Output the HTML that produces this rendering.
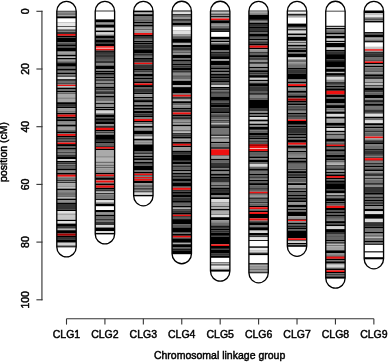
<!DOCTYPE html>
<html><head><meta charset="utf-8"><title>Chromosomal linkage groups</title>
<style>html,body{margin:0;padding:0;background:#fff}svg{display:block}</style>
</head><body>
<svg width="388" height="362" viewBox="0 0 388 362">
<rect width="388" height="362" fill="#fff"/>
<g>
<rect x="56.8" y="10.8" width="19.4" height="0.9" fill="#000"/>
<rect x="56.8" y="11.7" width="19.4" height="1.1" fill="#909090"/>
<rect x="56.8" y="12.8" width="19.4" height="0.8" fill="#333333"/>
<rect x="56.8" y="13.6" width="19.4" height="0.9" fill="#6e6e6e"/>
<rect x="56.8" y="14.5" width="19.4" height="0.7" fill="#333333"/>
<rect x="56.8" y="15.2" width="19.4" height="0.9" fill="#999999"/>
<rect x="56.8" y="16.1" width="19.4" height="0.9" fill="#333333"/>
<rect x="56.8" y="17" width="19.4" height="1.3" fill="#000"/>
<rect x="56.8" y="22.2" width="19.4" height="0.6" fill="#999999"/>
<rect x="56.8" y="22.8" width="19.4" height="3.2" fill="#e8e8e8"/>
<rect x="56.8" y="26" width="19.4" height="0.9" fill="#333333"/>
<rect x="56.8" y="26.9" width="19.4" height="2.3" fill="#e7e7e7"/>
<rect x="56.8" y="29.2" width="19.4" height="1" fill="#6e6e6e"/>
<rect x="56.8" y="30.2" width="19.4" height="1" fill="#333333"/>
<rect x="56.8" y="31.2" width="19.4" height="0.8" fill="#6e6e6e"/>
<rect x="56.8" y="32" width="19.4" height="2" fill="#333333"/>
<rect x="56.8" y="34" width="19.4" height="1.8" fill="#ee1111"/>
<rect x="56.8" y="35.8" width="19.4" height="1.4" fill="#000"/>
<rect x="56.8" y="37.2" width="19.4" height="0.8" fill="#333333"/>
<rect x="56.8" y="38" width="19.4" height="4" fill="#000"/>
<rect x="56.8" y="42" width="19.4" height="1" fill="#707070"/>
<rect x="56.8" y="43" width="19.4" height="1.3" fill="#545454"/>
<rect x="56.8" y="44.3" width="19.4" height="1.9" fill="#000"/>
<rect x="56.8" y="46.2" width="19.4" height="1.4" fill="#333333"/>
<rect x="56.8" y="47.6" width="19.4" height="3.6" fill="#000"/>
<rect x="56.8" y="51.2" width="19.4" height="0.9" fill="#616161"/>
<rect x="56.8" y="52.1" width="19.4" height="2.6" fill="#9b9b9b"/>
<rect x="56.8" y="54.7" width="19.4" height="1.4" fill="#000"/>
<rect x="56.8" y="56.1" width="19.4" height="0.9" fill="#808080"/>
<rect x="56.8" y="57" width="19.4" height="1" fill="#b5b5b5"/>
<rect x="56.8" y="58" width="19.4" height="1.4" fill="#000"/>
<rect x="56.8" y="59.4" width="19.4" height="0.9" fill="#676767"/>
<rect x="56.8" y="60.3" width="19.4" height="0.9" fill="#828282"/>
<rect x="56.8" y="61.2" width="19.4" height="1" fill="#626262"/>
<rect x="56.8" y="62.2" width="19.4" height="0.9" fill="#333333"/>
<rect x="56.8" y="63.1" width="19.4" height="3.1" fill="#000"/>
<rect x="56.8" y="66.2" width="19.4" height="1" fill="#333333"/>
<rect x="56.8" y="67.2" width="19.4" height="1.6" fill="#5c5c5c"/>
<rect x="56.8" y="68.8" width="19.4" height="1.8" fill="#000"/>
<rect x="56.8" y="70.6" width="19.4" height="0.7" fill="#333333"/>
<rect x="56.8" y="71.3" width="19.4" height="1.7" fill="#606060"/>
<rect x="56.8" y="73" width="19.4" height="1.4" fill="#000"/>
<rect x="56.8" y="74.4" width="19.4" height="1.6" fill="#666666"/>
<rect x="56.8" y="76" width="19.4" height="0.8" fill="#000"/>
<rect x="56.8" y="76.8" width="19.4" height="2.4" fill="#d8d8d8"/>
<rect x="56.8" y="79.2" width="19.4" height="1.6" fill="#000"/>
<rect x="56.8" y="80.8" width="19.4" height="2.2" fill="#6c6c6c"/>
<rect x="56.8" y="83" width="19.4" height="0.9" fill="#333333"/>
<rect x="56.8" y="83.9" width="19.4" height="0.9" fill="#6e6e6e"/>
<rect x="56.8" y="84.8" width="19.4" height="1.2" fill="#ee1111"/>
<rect x="56.8" y="86" width="19.4" height="1.6" fill="#bbbbbb"/>
<rect x="56.8" y="87.6" width="19.4" height="1.4" fill="#000"/>
<rect x="56.8" y="89" width="19.4" height="1.9" fill="#6e6e6e"/>
<rect x="56.8" y="90.9" width="19.4" height="1.1" fill="#000"/>
<rect x="56.8" y="92" width="19.4" height="0.8" fill="#8f8f8f"/>
<rect x="56.8" y="92.8" width="19.4" height="0.9" fill="#000"/>
<rect x="56.8" y="93.7" width="19.4" height="3.3" fill="#a8a8a8"/>
<rect x="56.8" y="97" width="19.4" height="0.6" fill="#6d6d6d"/>
<rect x="56.8" y="97.6" width="19.4" height="1.4" fill="#878787"/>
<rect x="56.8" y="99" width="19.4" height="0.6" fill="#6a6a6a"/>
<rect x="56.8" y="99.6" width="19.4" height="2.6" fill="#a5a5a5"/>
<rect x="56.8" y="102.2" width="19.4" height="1.8" fill="#000"/>
<rect x="56.8" y="104" width="19.4" height="2.4" fill="#333333"/>
<rect x="56.8" y="106.4" width="19.4" height="1.9" fill="#000"/>
<rect x="56.8" y="108.3" width="19.4" height="2.9" fill="#9a9a9a"/>
<rect x="56.8" y="111.2" width="19.4" height="0.9" fill="#5f5f5f"/>
<rect x="56.8" y="112.1" width="19.4" height="0.9" fill="#7b7b7b"/>
<rect x="56.8" y="113" width="19.4" height="1.6" fill="#000"/>
<rect x="56.8" y="114.6" width="19.4" height="2.2" fill="#ee1111"/>
<rect x="56.8" y="116.8" width="19.4" height="1.4" fill="#000"/>
<rect x="56.8" y="118.2" width="19.4" height="1.8" fill="#333333"/>
<rect x="56.8" y="120" width="19.4" height="1.5" fill="#000"/>
<rect x="56.8" y="121.5" width="19.4" height="2.3" fill="#8b8b8b"/>
<rect x="56.8" y="123.8" width="19.4" height="1" fill="#636363"/>
<rect x="56.8" y="124.8" width="19.4" height="1.9" fill="#000"/>
<rect x="56.8" y="126.7" width="19.4" height="2.8" fill="#9c9c9c"/>
<rect x="56.8" y="129.5" width="19.4" height="1.9" fill="#666666"/>
<rect x="56.8" y="131.4" width="19.4" height="1.8" fill="#000"/>
<rect x="56.8" y="133.2" width="19.4" height="0.8" fill="#616161"/>
<rect x="56.8" y="134" width="19.4" height="1.9" fill="#ee1111"/>
<rect x="56.8" y="135.9" width="19.4" height="1.6" fill="#000"/>
<rect x="56.8" y="137.5" width="19.4" height="1.5" fill="#333333"/>
<rect x="56.8" y="139" width="19.4" height="1.3" fill="#5b5b5b"/>
<rect x="56.8" y="140.3" width="19.4" height="2.2" fill="#333333"/>
<rect x="56.8" y="142.5" width="19.4" height="1.6" fill="#ee1111"/>
<rect x="56.8" y="144.1" width="19.4" height="1.9" fill="#000"/>
<rect x="56.8" y="146" width="19.4" height="1.9" fill="#606060"/>
<rect x="56.8" y="147.9" width="19.4" height="1.4" fill="#000"/>
<rect x="56.8" y="149.3" width="19.4" height="1.4" fill="#333333"/>
<rect x="56.8" y="150.7" width="19.4" height="1.4" fill="#7c7c7c"/>
<rect x="56.8" y="152.1" width="19.4" height="1.1" fill="#333333"/>
<rect x="56.8" y="153.2" width="19.4" height="1.5" fill="#616161"/>
<rect x="56.8" y="154.7" width="19.4" height="1.6" fill="#333333"/>
<rect x="56.8" y="156.3" width="19.4" height="2.8" fill="#000"/>
<rect x="56.8" y="159.1" width="19.4" height="1.9" fill="#d2d2d2"/>
<rect x="56.8" y="161" width="19.4" height="1.6" fill="#000"/>
<rect x="56.8" y="162.6" width="19.4" height="1.7" fill="#333333"/>
<rect x="56.8" y="164.3" width="19.4" height="1.1" fill="#616161"/>
<rect x="56.8" y="165.4" width="19.4" height="1.2" fill="#000"/>
<rect x="56.8" y="166.6" width="19.4" height="1.9" fill="#636363"/>
<rect x="56.8" y="168.5" width="19.4" height="2.1" fill="#000"/>
<rect x="56.8" y="170.6" width="19.4" height="2.2" fill="#8b8b8b"/>
<rect x="56.8" y="172.8" width="19.4" height="1.9" fill="#000"/>
<rect x="56.8" y="174.7" width="19.4" height="2.1" fill="#ee1111"/>
<rect x="56.8" y="176.8" width="19.4" height="1.2" fill="#878787"/>
<rect x="56.8" y="178" width="19.4" height="1.9" fill="#6e6e6e"/>
<rect x="56.8" y="179.9" width="19.4" height="1.1" fill="#333333"/>
<rect x="56.8" y="181" width="19.4" height="1" fill="#8a8a8a"/>
<rect x="56.8" y="182" width="19.4" height="1.1" fill="#333333"/>
<rect x="56.8" y="183.1" width="19.4" height="3.3" fill="#a9a9a9"/>
<rect x="56.8" y="186.4" width="19.4" height="1" fill="#6e6e6e"/>
<rect x="56.8" y="187.4" width="19.4" height="1.2" fill="#bdbdbd"/>
<rect x="56.8" y="188.6" width="19.4" height="1.6" fill="#000"/>
<rect x="56.8" y="190.2" width="19.4" height="1.6" fill="#6e6e6e"/>
<rect x="56.8" y="191.8" width="19.4" height="0.7" fill="#8e8e8e"/>
<rect x="56.8" y="192.5" width="19.4" height="1.2" fill="#333333"/>
<rect x="56.8" y="193.7" width="19.4" height="2.1" fill="#6e6e6e"/>
<rect x="56.8" y="195.8" width="19.4" height="1" fill="#333333"/>
<rect x="56.8" y="196.8" width="19.4" height="1.8" fill="#b8b8b8"/>
<rect x="56.8" y="198.6" width="19.4" height="1.4" fill="#000"/>
<rect x="56.8" y="200" width="19.4" height="2.6" fill="#8d8d8d"/>
<rect x="56.8" y="202.6" width="19.4" height="1.4" fill="#000"/>
<rect x="56.8" y="204" width="19.4" height="5.5" fill="#333333"/>
<rect x="56.8" y="209.5" width="19.4" height="1.5" fill="#000"/>
<rect x="56.8" y="211" width="19.4" height="2.7" fill="#e0e0e0"/>
<rect x="56.8" y="213.7" width="19.4" height="1" fill="#6e6e6e"/>
<rect x="56.8" y="214.7" width="19.4" height="1.3" fill="#c9c9c9"/>
<rect x="56.8" y="216" width="19.4" height="0.5" fill="#999999"/>
<rect x="56.8" y="216.5" width="19.4" height="1.5" fill="#c7c7c7"/>
<rect x="56.8" y="218" width="19.4" height="0.5" fill="#999999"/>
<rect x="56.8" y="218.5" width="19.4" height="1.3" fill="#c8c8c8"/>
<rect x="56.8" y="219.8" width="19.4" height="1.4" fill="#000"/>
<rect x="56.8" y="221.2" width="19.4" height="2.4" fill="#e2e2e2"/>
<rect x="56.8" y="223.6" width="19.4" height="2.4" fill="#000"/>
<rect x="56.8" y="226" width="19.4" height="2.3" fill="#333333"/>
<rect x="56.8" y="228.3" width="19.4" height="0.7" fill="#626262"/>
<rect x="56.8" y="229" width="19.4" height="1.2" fill="#b4b4b4"/>
<rect x="56.8" y="230.2" width="19.4" height="3.4" fill="#000"/>
<rect x="56.8" y="233.6" width="19.4" height="2.2" fill="#a80000"/>
<rect x="56.8" y="235.8" width="19.4" height="1.2" fill="#000"/>
<rect x="56.8" y="237" width="19.4" height="2.9" fill="#333333"/>
<rect x="56.8" y="239.9" width="19.4" height="2.8" fill="#000"/>
<rect x="56.8" y="242.7" width="19.4" height="2.8" fill="#d4d4d4"/>
<rect x="56.8" y="245.5" width="19.4" height="1.9" fill="#333333"/>
<path d="M56.8 246.9 V11.3 A9.7 10 0 0 1 76.2 11.3 V246.9 A9.7 10 0 0 1 56.8 246.9 Z" fill="none" stroke="#000" stroke-width="1.35"/>
</g>
<g>
<rect x="95.22" y="10.6" width="19.4" height="0.8" fill="#000"/>
<rect x="95.22" y="19.4" width="19.4" height="2.6" fill="#000"/>
<rect x="95.22" y="22" width="19.4" height="0.7" fill="#333333"/>
<rect x="95.22" y="22.7" width="19.4" height="1.8" fill="#9a9a9a"/>
<rect x="95.22" y="24.5" width="19.4" height="2.9" fill="#000"/>
<rect x="95.22" y="27.4" width="19.4" height="0.9" fill="#333333"/>
<rect x="95.22" y="28.3" width="19.4" height="2.2" fill="#d6d6d6"/>
<rect x="95.22" y="30.5" width="19.4" height="1.8" fill="#000"/>
<rect x="95.22" y="32.3" width="19.4" height="2.3" fill="#d3d3d3"/>
<rect x="95.22" y="34.6" width="19.4" height="1.2" fill="#666666"/>
<rect x="95.22" y="35.8" width="19.4" height="2.4" fill="#000"/>
<rect x="95.22" y="38.2" width="19.4" height="1.4" fill="#333333"/>
<rect x="95.22" y="39.6" width="19.4" height="2.4" fill="#000"/>
<rect x="95.22" y="42" width="19.4" height="1.9" fill="#333333"/>
<rect x="95.22" y="43.9" width="19.4" height="2.3" fill="#000"/>
<rect x="95.22" y="46.2" width="19.4" height="1.6" fill="#ee1111"/>
<rect x="95.22" y="47.8" width="19.4" height="1" fill="#f2b0b0"/>
<rect x="95.22" y="48.8" width="19.4" height="1.7" fill="#ee1111"/>
<rect x="95.22" y="50.5" width="19.4" height="1.4" fill="#000"/>
<rect x="95.22" y="51.9" width="19.4" height="1.4" fill="#333333"/>
<rect x="95.22" y="53.3" width="19.4" height="1.4" fill="#000"/>
<rect x="95.22" y="54.7" width="19.4" height="2.8" fill="#333333"/>
<rect x="95.22" y="57.5" width="19.4" height="1.2" fill="#000"/>
<rect x="95.22" y="58.7" width="19.4" height="1.6" fill="#595959"/>
<rect x="95.22" y="60.3" width="19.4" height="3.3" fill="#333333"/>
<rect x="95.22" y="63.6" width="19.4" height="1.9" fill="#868686"/>
<rect x="95.22" y="65.5" width="19.4" height="3.7" fill="#000"/>
<rect x="95.22" y="69.2" width="19.4" height="1.7" fill="#7a7a7a"/>
<rect x="95.22" y="70.9" width="19.4" height="1.1" fill="#000"/>
<rect x="95.22" y="72" width="19.4" height="1" fill="#5d5d5d"/>
<rect x="95.22" y="73" width="19.4" height="1.8" fill="#000"/>
<rect x="95.22" y="74.8" width="19.4" height="2" fill="#5f5f5f"/>
<rect x="95.22" y="76.8" width="19.4" height="1.4" fill="#000"/>
<rect x="95.22" y="78.2" width="19.4" height="1.2" fill="#636363"/>
<rect x="95.22" y="79.4" width="19.4" height="1.4" fill="#000"/>
<rect x="95.22" y="80.8" width="19.4" height="2.4" fill="#898989"/>
<rect x="95.22" y="83.2" width="19.4" height="1.3" fill="#000"/>
<rect x="95.22" y="84.5" width="19.4" height="2.2" fill="#898989"/>
<rect x="95.22" y="86.7" width="19.4" height="1.4" fill="#000"/>
<rect x="95.22" y="88.1" width="19.4" height="2.1" fill="#333333"/>
<rect x="95.22" y="90.2" width="19.4" height="1.2" fill="#626262"/>
<rect x="95.22" y="91.4" width="19.4" height="1.4" fill="#000"/>
<rect x="95.22" y="92.8" width="19.4" height="1.4" fill="#333333"/>
<rect x="95.22" y="94.2" width="19.4" height="1.6" fill="#7f7f7f"/>
<rect x="95.22" y="95.8" width="19.4" height="1.9" fill="#000"/>
<rect x="95.22" y="97.7" width="19.4" height="3.5" fill="#717171"/>
<rect x="95.22" y="101.2" width="19.4" height="1.9" fill="#919191"/>
<rect x="95.22" y="103.1" width="19.4" height="1.4" fill="#000"/>
<rect x="95.22" y="104.5" width="19.4" height="2.4" fill="#979797"/>
<rect x="95.22" y="106.9" width="19.4" height="1.1" fill="#000"/>
<rect x="95.22" y="108" width="19.4" height="0.8" fill="#8a8a8a"/>
<rect x="95.22" y="108.8" width="19.4" height="1.7" fill="#000"/>
<rect x="95.22" y="110.5" width="19.4" height="2.8" fill="#d5d5d5"/>
<rect x="95.22" y="113.3" width="19.4" height="1.2" fill="#656565"/>
<rect x="95.22" y="114.5" width="19.4" height="2.8" fill="#000"/>
<rect x="95.22" y="117.3" width="19.4" height="1.7" fill="#333333"/>
<rect x="95.22" y="119" width="19.4" height="1" fill="#000"/>
<rect x="95.22" y="120" width="19.4" height="2" fill="#333333"/>
<rect x="95.22" y="122" width="19.4" height="2.3" fill="#000"/>
<rect x="95.22" y="124.3" width="19.4" height="1.9" fill="#838383"/>
<rect x="95.22" y="126.2" width="19.4" height="1.6" fill="#000"/>
<rect x="95.22" y="127.8" width="19.4" height="2.2" fill="#ee1111"/>
<rect x="95.22" y="130" width="19.4" height="1.2" fill="#000"/>
<rect x="95.22" y="131.2" width="19.4" height="1.1" fill="#5a5a5a"/>
<rect x="95.22" y="132.3" width="19.4" height="0.9" fill="#000"/>
<rect x="95.22" y="133.2" width="19.4" height="1.4" fill="#747474"/>
<rect x="95.22" y="134.6" width="19.4" height="5.3" fill="#000"/>
<rect x="95.22" y="139.9" width="19.4" height="1.4" fill="#323232"/>
<rect x="95.22" y="141.3" width="19.4" height="2.3" fill="#000"/>
<rect x="95.22" y="143.6" width="19.4" height="2.4" fill="#5f5f5f"/>
<rect x="95.22" y="146" width="19.4" height="1" fill="#333333"/>
<rect x="95.22" y="147" width="19.4" height="1.8" fill="#ee1111"/>
<rect x="95.22" y="148.8" width="19.4" height="1.2" fill="#000"/>
<rect x="95.22" y="150" width="19.4" height="6.3" fill="#aaaaaa"/>
<rect x="95.22" y="156.3" width="19.4" height="1.4" fill="#6e6e6e"/>
<rect x="95.22" y="157.7" width="19.4" height="3.8" fill="#b4b4b4"/>
<rect x="95.22" y="161.5" width="19.4" height="1.9" fill="#6e6e6e"/>
<rect x="95.22" y="163.4" width="19.4" height="1.4" fill="#979797"/>
<rect x="95.22" y="164.8" width="19.4" height="1.4" fill="#6e6e6e"/>
<rect x="95.22" y="166.2" width="19.4" height="1.1" fill="#919191"/>
<rect x="95.22" y="167.3" width="19.4" height="0.9" fill="#333333"/>
<rect x="95.22" y="168.2" width="19.4" height="1.8" fill="#979797"/>
<rect x="95.22" y="170" width="19.4" height="0.6" fill="#6c6c6c"/>
<rect x="95.22" y="170.6" width="19.4" height="2.2" fill="#929292"/>
<rect x="95.22" y="172.8" width="19.4" height="1.7" fill="#000"/>
<rect x="95.22" y="174.5" width="19.4" height="1.9" fill="#ee1111"/>
<rect x="95.22" y="176.4" width="19.4" height="1.3" fill="#333333"/>
<rect x="95.22" y="177.7" width="19.4" height="2.2" fill="#000"/>
<rect x="95.22" y="179.9" width="19.4" height="0.6" fill="#787878"/>
<rect x="95.22" y="180.5" width="19.4" height="2.2" fill="#ee1111"/>
<rect x="95.22" y="182.7" width="19.4" height="0.9" fill="#5b5b5b"/>
<rect x="95.22" y="183.6" width="19.4" height="1.9" fill="#000"/>
<rect x="95.22" y="185.5" width="19.4" height="2.3" fill="#ee1111"/>
<rect x="95.22" y="187.8" width="19.4" height="1.4" fill="#000"/>
<rect x="95.22" y="189.2" width="19.4" height="2.4" fill="#333333"/>
<rect x="95.22" y="191.6" width="19.4" height="1.4" fill="#b6b6b6"/>
<rect x="95.22" y="193" width="19.4" height="1.4" fill="#333333"/>
<rect x="95.22" y="194.4" width="19.4" height="4.7" fill="#767676"/>
<rect x="95.22" y="199.1" width="19.4" height="1.1" fill="#000"/>
<rect x="95.22" y="200.2" width="19.4" height="2.2" fill="#e1e1e1"/>
<rect x="95.22" y="202.4" width="19.4" height="1.5" fill="#6e6e6e"/>
<rect x="95.22" y="203.9" width="19.4" height="2.3" fill="#000"/>
<rect x="95.22" y="210" width="19.4" height="2.5" fill="#000"/>
<rect x="95.22" y="212.5" width="19.4" height="2.2" fill="#939393"/>
<rect x="95.22" y="214.7" width="19.4" height="1.9" fill="#000"/>
<rect x="95.22" y="216.6" width="19.4" height="2.3" fill="#6b6b6b"/>
<rect x="95.22" y="218.9" width="19.4" height="1.1" fill="#333333"/>
<rect x="95.22" y="220" width="19.4" height="1.7" fill="#686868"/>
<rect x="95.22" y="221.7" width="19.4" height="3.3" fill="#333333"/>
<rect x="95.22" y="225" width="19.4" height="2.5" fill="#d8d8d8"/>
<rect x="95.22" y="227.5" width="19.4" height="3.6" fill="#000"/>
<rect x="95.22" y="231.1" width="19.4" height="1.9" fill="#dadada"/>
<rect x="95.22" y="233" width="19.4" height="1.4" fill="#000"/>
<path d="M95.22 233.9 V11.3 A9.7 10 0 0 1 114.62 11.3 V233.9 A9.7 10 0 0 1 95.22 233.9 Z" fill="none" stroke="#000" stroke-width="1.35"/>
</g>
<g>
<rect x="133.64" y="10.6" width="19.4" height="1.4" fill="#000"/>
<rect x="133.64" y="12" width="19.4" height="0.6" fill="#333333"/>
<rect x="133.64" y="12.6" width="19.4" height="1.6" fill="#b7b7b7"/>
<rect x="133.64" y="14.2" width="19.4" height="1.9" fill="#000"/>
<rect x="133.64" y="16.1" width="19.4" height="1.4" fill="#656565"/>
<rect x="133.64" y="17.5" width="19.4" height="1.1" fill="#333333"/>
<rect x="133.64" y="18.6" width="19.4" height="1.3" fill="#656565"/>
<rect x="133.64" y="19.9" width="19.4" height="0.9" fill="#333333"/>
<rect x="133.64" y="20.8" width="19.4" height="0.9" fill="#848484"/>
<rect x="133.64" y="21.7" width="19.4" height="1.3" fill="#000"/>
<rect x="133.64" y="23" width="19.4" height="2" fill="#6a6a6a"/>
<rect x="133.64" y="25" width="19.4" height="1.7" fill="#000"/>
<rect x="133.64" y="26.7" width="19.4" height="2.1" fill="#909090"/>
<rect x="133.64" y="28.8" width="19.4" height="1.4" fill="#686868"/>
<rect x="133.64" y="30.2" width="19.4" height="2.8" fill="#9f9f9f"/>
<rect x="133.64" y="33" width="19.4" height="1.9" fill="#ee1111"/>
<rect x="133.64" y="34.9" width="19.4" height="1.9" fill="#000"/>
<rect x="133.64" y="36.8" width="19.4" height="1.8" fill="#333333"/>
<rect x="133.64" y="38.6" width="19.4" height="1" fill="#000"/>
<rect x="133.64" y="39.6" width="19.4" height="1.4" fill="#777777"/>
<rect x="133.64" y="41" width="19.4" height="1" fill="#000"/>
<rect x="133.64" y="42" width="19.4" height="0.8" fill="#565656"/>
<rect x="133.64" y="42.8" width="19.4" height="1.8" fill="#000"/>
<rect x="133.64" y="44.6" width="19.4" height="2.6" fill="#2f2f2f"/>
<rect x="133.64" y="47.2" width="19.4" height="1.4" fill="#000"/>
<rect x="133.64" y="48.6" width="19.4" height="1.4" fill="#2f2f2f"/>
<rect x="133.64" y="50" width="19.4" height="3.3" fill="#000"/>
<rect x="133.64" y="53.3" width="19.4" height="2.3" fill="#303030"/>
<rect x="133.64" y="55.6" width="19.4" height="1" fill="#000"/>
<rect x="133.64" y="56.6" width="19.4" height="1.2" fill="#747474"/>
<rect x="133.64" y="57.8" width="19.4" height="1.2" fill="#000"/>
<rect x="133.64" y="59" width="19.4" height="3.7" fill="#313131"/>
<rect x="133.64" y="62.7" width="19.4" height="1.6" fill="#ee1111"/>
<rect x="133.64" y="64.3" width="19.4" height="4" fill="#333333"/>
<rect x="133.64" y="68.3" width="19.4" height="1.9" fill="#000"/>
<rect x="133.64" y="70.2" width="19.4" height="1.1" fill="#333333"/>
<rect x="133.64" y="71.3" width="19.4" height="1.2" fill="#000"/>
<rect x="133.64" y="72.5" width="19.4" height="1.4" fill="#757575"/>
<rect x="133.64" y="73.9" width="19.4" height="2.1" fill="#000"/>
<rect x="133.64" y="76" width="19.4" height="1.8" fill="#585858"/>
<rect x="133.64" y="77.8" width="19.4" height="1.8" fill="#000"/>
<rect x="133.64" y="79.6" width="19.4" height="1.7" fill="#5a5a5a"/>
<rect x="133.64" y="81.3" width="19.4" height="2.1" fill="#000"/>
<rect x="133.64" y="83.4" width="19.4" height="1.7" fill="#ee1111"/>
<rect x="133.64" y="85.1" width="19.4" height="2.5" fill="#000"/>
<rect x="133.64" y="87.6" width="19.4" height="1.4" fill="#5f5f5f"/>
<rect x="133.64" y="89" width="19.4" height="3.8" fill="#333333"/>
<rect x="133.64" y="92.8" width="19.4" height="1.4" fill="#000"/>
<rect x="133.64" y="94.2" width="19.4" height="2.8" fill="#999999"/>
<rect x="133.64" y="97" width="19.4" height="1.4" fill="#000"/>
<rect x="133.64" y="98.4" width="19.4" height="1.7" fill="#626262"/>
<rect x="133.64" y="100.1" width="19.4" height="2.5" fill="#000"/>
<rect x="133.64" y="102.6" width="19.4" height="2.2" fill="#898989"/>
<rect x="133.64" y="104.8" width="19.4" height="2" fill="#000"/>
<rect x="133.64" y="106.8" width="19.4" height="1.2" fill="#787878"/>
<rect x="133.64" y="108" width="19.4" height="1.8" fill="#000"/>
<rect x="133.64" y="109.8" width="19.4" height="1.1" fill="#7b7b7b"/>
<rect x="133.64" y="110.9" width="19.4" height="2.6" fill="#000"/>
<rect x="133.64" y="113.5" width="19.4" height="2.4" fill="#333333"/>
<rect x="133.64" y="115.9" width="19.4" height="1.6" fill="#000"/>
<rect x="133.64" y="117.5" width="19.4" height="1.5" fill="#7f7f7f"/>
<rect x="133.64" y="119" width="19.4" height="2" fill="#ee1111"/>
<rect x="133.64" y="121" width="19.4" height="1.2" fill="#000"/>
<rect x="133.64" y="122.2" width="19.4" height="2.1" fill="#666666"/>
<rect x="133.64" y="124.3" width="19.4" height="1.6" fill="#b6b6b6"/>
<rect x="133.64" y="125.9" width="19.4" height="1.2" fill="#000"/>
<rect x="133.64" y="127.1" width="19.4" height="1.4" fill="#333333"/>
<rect x="133.64" y="128.5" width="19.4" height="2.1" fill="#919191"/>
<rect x="133.64" y="130.6" width="19.4" height="4" fill="#000"/>
<rect x="133.64" y="134.6" width="19.4" height="1" fill="#858585"/>
<rect x="133.64" y="135.6" width="19.4" height="0.9" fill="#000"/>
<rect x="133.64" y="136.5" width="19.4" height="1.9" fill="#d7d7d7"/>
<rect x="133.64" y="138.4" width="19.4" height="0.2" fill="#000"/>
<rect x="133.64" y="138.6" width="19.4" height="0.4" fill="#646464"/>
<rect x="133.64" y="139" width="19.4" height="1.6" fill="#000"/>
<rect x="133.64" y="140.6" width="19.4" height="1" fill="#7f7f7f"/>
<rect x="133.64" y="141.6" width="19.4" height="1.8" fill="#8a8a8a"/>
<rect x="133.64" y="143.4" width="19.4" height="1" fill="#7e7e7e"/>
<rect x="133.64" y="144.4" width="19.4" height="7.2" fill="#000"/>
<rect x="133.64" y="151.6" width="19.4" height="1.4" fill="#585858"/>
<rect x="133.64" y="153" width="19.4" height="1.4" fill="#333333"/>
<rect x="133.64" y="154.4" width="19.4" height="1.6" fill="#757575"/>
<rect x="133.64" y="156" width="19.4" height="1.2" fill="#000"/>
<rect x="133.64" y="157.2" width="19.4" height="1" fill="#5d5d5d"/>
<rect x="133.64" y="158.2" width="19.4" height="2.3" fill="#000"/>
<rect x="133.64" y="160.5" width="19.4" height="1.5" fill="#777777"/>
<rect x="133.64" y="162" width="19.4" height="1.8" fill="#000"/>
<rect x="133.64" y="163.8" width="19.4" height="1.9" fill="#585858"/>
<rect x="133.64" y="165.7" width="19.4" height="4.9" fill="#000"/>
<rect x="133.64" y="170.6" width="19.4" height="1.4" fill="#787878"/>
<rect x="133.64" y="172" width="19.4" height="1.6" fill="#000"/>
<rect x="133.64" y="173.6" width="19.4" height="1.6" fill="#ee1111"/>
<rect x="133.64" y="175.2" width="19.4" height="0.6" fill="#000"/>
<rect x="133.64" y="175.8" width="19.4" height="1.2" fill="#7d7d7d"/>
<rect x="133.64" y="177" width="19.4" height="1.5" fill="#ee1111"/>
<rect x="133.64" y="178.5" width="19.4" height="0.5" fill="#333333"/>
<rect x="133.64" y="179" width="19.4" height="1.8" fill="#ee1111"/>
<rect x="133.64" y="180.8" width="19.4" height="2.3" fill="#000"/>
<rect x="133.64" y="183.1" width="19.4" height="2.4" fill="#919191"/>
<rect x="133.64" y="185.5" width="19.4" height="1.2" fill="#000"/>
<rect x="133.64" y="186.7" width="19.4" height="1.6" fill="#868686"/>
<rect x="133.64" y="188.3" width="19.4" height="1.4" fill="#000"/>
<rect x="133.64" y="189.7" width="19.4" height="1.7" fill="#898989"/>
<rect x="133.64" y="191.4" width="19.4" height="1.1" fill="#000"/>
<rect x="133.64" y="192.5" width="19.4" height="2.4" fill="#dcdcdc"/>
<rect x="133.64" y="194.9" width="19.4" height="1.4" fill="#000"/>
<path d="M133.64 195.8 V11.3 A9.7 10 0 0 1 153.04 11.3 V195.8 A9.7 10 0 0 1 133.64 195.8 Z" fill="none" stroke="#000" stroke-width="1.35"/>
</g>
<g>
<rect x="172.06" y="10.5" width="19.4" height="1.2" fill="#000"/>
<rect x="172.06" y="11.7" width="19.4" height="2.5" fill="#dedede"/>
<rect x="172.06" y="14.2" width="19.4" height="1.4" fill="#000"/>
<rect x="172.06" y="15.6" width="19.4" height="1.4" fill="#6a6a6a"/>
<rect x="172.06" y="17" width="19.4" height="2.2" fill="#949494"/>
<rect x="172.06" y="19.2" width="19.4" height="1.6" fill="#000"/>
<rect x="172.06" y="20.8" width="19.4" height="1.9" fill="#6e6e6e"/>
<rect x="172.06" y="22.7" width="19.4" height="2.3" fill="#000"/>
<rect x="172.06" y="25" width="19.4" height="1.7" fill="#6e6e6e"/>
<rect x="172.06" y="30.2" width="19.4" height="0.6" fill="#999999"/>
<rect x="172.06" y="30.8" width="19.4" height="3.2" fill="#e0e0e0"/>
<rect x="172.06" y="34" width="19.4" height="1.8" fill="#969696"/>
<rect x="172.06" y="35.8" width="19.4" height="1.4" fill="#6e6e6e"/>
<rect x="172.06" y="37.2" width="19.4" height="1.4" fill="#333333"/>
<rect x="172.06" y="38.6" width="19.4" height="3.4" fill="#000"/>
<rect x="172.06" y="42" width="19.4" height="1.4" fill="#333333"/>
<rect x="172.06" y="43.4" width="19.4" height="1.6" fill="#b3b3b3"/>
<rect x="172.06" y="45" width="19.4" height="2.6" fill="#000"/>
<rect x="172.06" y="47.6" width="19.4" height="2.4" fill="#333333"/>
<rect x="172.06" y="50" width="19.4" height="1" fill="#636363"/>
<rect x="172.06" y="51" width="19.4" height="1.5" fill="#7f7f7f"/>
<rect x="172.06" y="52.5" width="19.4" height="1" fill="#000"/>
<rect x="172.06" y="53.5" width="19.4" height="1.2" fill="#b0b0b0"/>
<rect x="172.06" y="54.7" width="19.4" height="3.7" fill="#000"/>
<rect x="172.06" y="58.4" width="19.4" height="1.4" fill="#5e5e5e"/>
<rect x="172.06" y="59.8" width="19.4" height="1.9" fill="#000"/>
<rect x="172.06" y="61.7" width="19.4" height="2.3" fill="#585858"/>
<rect x="172.06" y="64" width="19.4" height="1.5" fill="#000"/>
<rect x="172.06" y="65.5" width="19.4" height="2.3" fill="#333333"/>
<rect x="172.06" y="67.8" width="19.4" height="2.4" fill="#000"/>
<rect x="172.06" y="70.2" width="19.4" height="1.8" fill="#333333"/>
<rect x="172.06" y="72" width="19.4" height="1" fill="#636363"/>
<rect x="172.06" y="73" width="19.4" height="2.4" fill="#898989"/>
<rect x="172.06" y="75.4" width="19.4" height="1.4" fill="#333333"/>
<rect x="172.06" y="76.8" width="19.4" height="2.4" fill="#686868"/>
<rect x="172.06" y="79.2" width="19.4" height="1.8" fill="#848484"/>
<rect x="172.06" y="81" width="19.4" height="4.3" fill="#000"/>
<rect x="172.06" y="85.3" width="19.4" height="1.8" fill="#b1b1b1"/>
<rect x="172.06" y="87.1" width="19.4" height="6.1" fill="#000"/>
<rect x="172.06" y="93.2" width="19.4" height="1.6" fill="#626262"/>
<rect x="172.06" y="94.8" width="19.4" height="1.9" fill="#ee1111"/>
<rect x="172.06" y="96.7" width="19.4" height="1.7" fill="#333333"/>
<rect x="172.06" y="98.4" width="19.4" height="1.1" fill="#000"/>
<rect x="172.06" y="99.5" width="19.4" height="1.7" fill="#b6b6b6"/>
<rect x="172.06" y="101.2" width="19.4" height="2.4" fill="#000"/>
<rect x="172.06" y="103.6" width="19.4" height="1.9" fill="#646464"/>
<rect x="172.06" y="105.5" width="19.4" height="2.4" fill="#8b8b8b"/>
<rect x="172.06" y="107.9" width="19.4" height="1.4" fill="#000"/>
<rect x="172.06" y="109.3" width="19.4" height="3.1" fill="#333333"/>
<rect x="172.06" y="112.4" width="19.4" height="2.1" fill="#ee1111"/>
<rect x="172.06" y="114.5" width="19.4" height="1.8" fill="#000"/>
<rect x="172.06" y="116.3" width="19.4" height="1.9" fill="#333333"/>
<rect x="172.06" y="118.2" width="19.4" height="1.4" fill="#000"/>
<rect x="172.06" y="119.6" width="19.4" height="1.9" fill="#8f8f8f"/>
<rect x="172.06" y="121.5" width="19.4" height="1.9" fill="#696969"/>
<rect x="172.06" y="123.4" width="19.4" height="1.4" fill="#8b8b8b"/>
<rect x="172.06" y="124.8" width="19.4" height="1.7" fill="#000"/>
<rect x="172.06" y="126.5" width="19.4" height="3.5" fill="#a5a5a5"/>
<rect x="172.06" y="130" width="19.4" height="1" fill="#6c6c6c"/>
<rect x="172.06" y="131" width="19.4" height="0.8" fill="#898989"/>
<rect x="172.06" y="131.8" width="19.4" height="1.4" fill="#bcbcbc"/>
<rect x="172.06" y="133.2" width="19.4" height="1.4" fill="#000"/>
<rect x="172.06" y="134.6" width="19.4" height="1.9" fill="#333333"/>
<rect x="172.06" y="136.5" width="19.4" height="1.5" fill="#000"/>
<rect x="172.06" y="138" width="19.4" height="1.4" fill="#656565"/>
<rect x="172.06" y="139.4" width="19.4" height="2.6" fill="#909090"/>
<rect x="172.06" y="142" width="19.4" height="1.8" fill="#000"/>
<rect x="172.06" y="143.8" width="19.4" height="1.9" fill="#ee1111"/>
<rect x="172.06" y="145.7" width="19.4" height="1.7" fill="#000"/>
<rect x="172.06" y="147.4" width="19.4" height="3.3" fill="#979797"/>
<rect x="172.06" y="150.7" width="19.4" height="1.3" fill="#000"/>
<rect x="172.06" y="152" width="19.4" height="2.4" fill="#333333"/>
<rect x="172.06" y="154.4" width="19.4" height="5.6" fill="#000"/>
<rect x="172.06" y="160" width="19.4" height="1.5" fill="#2d2d2d"/>
<rect x="172.06" y="161.5" width="19.4" height="2.8" fill="#000"/>
<rect x="172.06" y="164.3" width="19.4" height="1.9" fill="#585858"/>
<rect x="172.06" y="166.2" width="19.4" height="1.4" fill="#000"/>
<rect x="172.06" y="167.6" width="19.4" height="2.1" fill="#5b5b5b"/>
<rect x="172.06" y="169.7" width="19.4" height="1.3" fill="#000"/>
<rect x="172.06" y="171" width="19.4" height="2" fill="#828282"/>
<rect x="172.06" y="173" width="19.4" height="1.7" fill="#000"/>
<rect x="172.06" y="174.7" width="19.4" height="1.4" fill="#585858"/>
<rect x="172.06" y="176.1" width="19.4" height="1.4" fill="#000"/>
<rect x="172.06" y="177.5" width="19.4" height="1" fill="#2f2f2f"/>
<rect x="172.06" y="178.5" width="19.4" height="2.8" fill="#000"/>
<rect x="172.06" y="181.3" width="19.4" height="1.4" fill="#2f2f2f"/>
<rect x="172.06" y="182.7" width="19.4" height="3.3" fill="#000"/>
<rect x="172.06" y="186" width="19.4" height="1.8" fill="#545454"/>
<rect x="172.06" y="187.8" width="19.4" height="2.1" fill="#ee1111"/>
<rect x="172.06" y="189.9" width="19.4" height="1.7" fill="#303030"/>
<rect x="172.06" y="191.6" width="19.4" height="1.4" fill="#000"/>
<rect x="172.06" y="193" width="19.4" height="1.9" fill="#303030"/>
<rect x="172.06" y="194.9" width="19.4" height="2.3" fill="#000"/>
<rect x="172.06" y="197.2" width="19.4" height="3.8" fill="#333333"/>
<rect x="172.06" y="201" width="19.4" height="1.8" fill="#000"/>
<rect x="172.06" y="202.8" width="19.4" height="3" fill="#656565"/>
<rect x="172.06" y="205.8" width="19.4" height="1.8" fill="#000"/>
<rect x="172.06" y="207.6" width="19.4" height="1.7" fill="#b0b0b0"/>
<rect x="172.06" y="209.3" width="19.4" height="1.3" fill="#000"/>
<rect x="172.06" y="210.6" width="19.4" height="1.7" fill="#333333"/>
<rect x="172.06" y="212.3" width="19.4" height="2.4" fill="#000"/>
<rect x="172.06" y="214.7" width="19.4" height="1.6" fill="#ee1111"/>
<rect x="172.06" y="216.3" width="19.4" height="0.7" fill="#000"/>
<rect x="172.06" y="217" width="19.4" height="2.1" fill="#575757"/>
<rect x="172.06" y="219.1" width="19.4" height="5.4" fill="#000"/>
<rect x="172.06" y="224.5" width="19.4" height="2.9" fill="#565656"/>
<rect x="172.06" y="227.4" width="19.4" height="5.3" fill="#000"/>
<rect x="172.06" y="232.7" width="19.4" height="1.3" fill="#727272"/>
<rect x="172.06" y="234" width="19.4" height="1.8" fill="#000"/>
<rect x="172.06" y="235.8" width="19.4" height="1.8" fill="#ee1111"/>
<rect x="172.06" y="237.6" width="19.4" height="1.2" fill="#313131"/>
<rect x="172.06" y="238.8" width="19.4" height="4" fill="#000"/>
<rect x="172.06" y="242.8" width="19.4" height="1.4" fill="#acacac"/>
<rect x="172.06" y="244.2" width="19.4" height="3.3" fill="#000"/>
<rect x="172.06" y="247.5" width="19.4" height="1.6" fill="#555555"/>
<rect x="172.06" y="249.1" width="19.4" height="0.9" fill="#000"/>
<rect x="172.06" y="250" width="19.4" height="1" fill="#323232"/>
<rect x="172.06" y="251" width="19.4" height="3.2" fill="#000"/>
<path d="M172.06 253.7 V11.3 A9.7 10 0 0 1 191.46 11.3 V253.7 A9.7 10 0 0 1 172.06 253.7 Z" fill="none" stroke="#000" stroke-width="1.35"/>
</g>
<g>
<rect x="210.48" y="10.5" width="19.4" height="1.2" fill="#000"/>
<rect x="210.48" y="11.7" width="19.4" height="1.6" fill="#bdbdbd"/>
<rect x="210.48" y="13.3" width="19.4" height="0.9" fill="#6c6c6c"/>
<rect x="210.48" y="14.2" width="19.4" height="1" fill="#333333"/>
<rect x="210.48" y="15.2" width="19.4" height="0.9" fill="#858585"/>
<rect x="210.48" y="16.1" width="19.4" height="0.9" fill="#000"/>
<rect x="210.48" y="17" width="19.4" height="1.5" fill="#878787"/>
<rect x="210.48" y="18.5" width="19.4" height="1.8" fill="#ee1111"/>
<rect x="210.48" y="20.3" width="19.4" height="3.3" fill="#000"/>
<rect x="210.48" y="23.6" width="19.4" height="1.9" fill="#8e8e8e"/>
<rect x="210.48" y="25.5" width="19.4" height="2.8" fill="#6e6e6e"/>
<rect x="210.48" y="28.3" width="19.4" height="1.6" fill="#000"/>
<rect x="210.48" y="29.9" width="19.4" height="1.2" fill="#333333"/>
<rect x="210.48" y="31.1" width="19.4" height="0.9" fill="#000"/>
<rect x="210.48" y="36.8" width="19.4" height="2.8" fill="#000"/>
<rect x="210.48" y="39.6" width="19.4" height="1.2" fill="#898989"/>
<rect x="210.48" y="40.8" width="19.4" height="1.2" fill="#000"/>
<rect x="210.48" y="42" width="19.4" height="1.4" fill="#b6b6b6"/>
<rect x="210.48" y="43.4" width="19.4" height="1.4" fill="#333333"/>
<rect x="210.48" y="44.8" width="19.4" height="5.8" fill="#000"/>
<rect x="210.48" y="50.6" width="19.4" height="1.5" fill="#747474"/>
<rect x="210.48" y="52.1" width="19.4" height="1.6" fill="#000"/>
<rect x="210.48" y="53.7" width="19.4" height="2.4" fill="#2f2f2f"/>
<rect x="210.48" y="56.1" width="19.4" height="3.3" fill="#000"/>
<rect x="210.48" y="59.4" width="19.4" height="1.4" fill="#acacac"/>
<rect x="210.48" y="60.8" width="19.4" height="4.7" fill="#000"/>
<rect x="210.48" y="65.5" width="19.4" height="1.9" fill="#5a5a5a"/>
<rect x="210.48" y="67.4" width="19.4" height="1.8" fill="#000"/>
<rect x="210.48" y="69.2" width="19.4" height="1.7" fill="#555555"/>
<rect x="210.48" y="70.9" width="19.4" height="1.6" fill="#000"/>
<rect x="210.48" y="72.5" width="19.4" height="1.2" fill="#747474"/>
<rect x="210.48" y="73.7" width="19.4" height="1.3" fill="#000"/>
<rect x="210.48" y="75" width="19.4" height="1.3" fill="#323232"/>
<rect x="210.48" y="76.3" width="19.4" height="1.9" fill="#000"/>
<rect x="210.48" y="78.2" width="19.4" height="2.8" fill="#333333"/>
<rect x="210.48" y="81" width="19.4" height="1" fill="#000"/>
<rect x="210.48" y="82" width="19.4" height="1.9" fill="#5f5f5f"/>
<rect x="210.48" y="83.9" width="19.4" height="0.9" fill="#000"/>
<rect x="210.48" y="84.8" width="19.4" height="2.2" fill="#d1d1d1"/>
<rect x="210.48" y="87" width="19.4" height="1.1" fill="#000"/>
<rect x="210.48" y="88.1" width="19.4" height="1.1" fill="#333333"/>
<rect x="210.48" y="89.2" width="19.4" height="1.2" fill="#000"/>
<rect x="210.48" y="90.4" width="19.4" height="1.9" fill="#616161"/>
<rect x="210.48" y="92.3" width="19.4" height="1.4" fill="#000"/>
<rect x="210.48" y="93.7" width="19.4" height="2.8" fill="#5c5c5c"/>
<rect x="210.48" y="96.5" width="19.4" height="4.3" fill="#000"/>
<rect x="210.48" y="100.8" width="19.4" height="1.8" fill="#565656"/>
<rect x="210.48" y="102.6" width="19.4" height="1.3" fill="#000"/>
<rect x="210.48" y="103.9" width="19.4" height="1.1" fill="#2c2c2c"/>
<rect x="210.48" y="105" width="19.4" height="1" fill="#000"/>
<rect x="210.48" y="106" width="19.4" height="1.4" fill="#000"/>
<rect x="210.48" y="107.4" width="19.4" height="3.8" fill="#323232"/>
<rect x="210.48" y="111.2" width="19.4" height="2.1" fill="#000"/>
<rect x="210.48" y="113.3" width="19.4" height="2.1" fill="#5c5c5c"/>
<rect x="210.48" y="115.4" width="19.4" height="1.4" fill="#000"/>
<rect x="210.48" y="116.8" width="19.4" height="2.3" fill="#626262"/>
<rect x="210.48" y="119.1" width="19.4" height="1.2" fill="#7d7d7d"/>
<rect x="210.48" y="120.3" width="19.4" height="1.2" fill="#000"/>
<rect x="210.48" y="121.5" width="19.4" height="1.9" fill="#666666"/>
<rect x="210.48" y="123.4" width="19.4" height="1.2" fill="#b6b6b6"/>
<rect x="210.48" y="124.6" width="19.4" height="1.1" fill="#000"/>
<rect x="210.48" y="125.7" width="19.4" height="1.4" fill="#333333"/>
<rect x="210.48" y="127.1" width="19.4" height="1.4" fill="#000"/>
<rect x="210.48" y="128.5" width="19.4" height="5.7" fill="#757575"/>
<rect x="210.48" y="134.2" width="19.4" height="1.8" fill="#333333"/>
<rect x="210.48" y="136" width="19.4" height="1.5" fill="#bcbcbc"/>
<rect x="210.48" y="137.5" width="19.4" height="1.1" fill="#000"/>
<rect x="210.48" y="138.6" width="19.4" height="3.2" fill="#a3a3a3"/>
<rect x="210.48" y="141.8" width="19.4" height="1.4" fill="#000"/>
<rect x="210.48" y="143.2" width="19.4" height="3.8" fill="#747474"/>
<rect x="210.48" y="147" width="19.4" height="1.3" fill="#333333"/>
<rect x="210.48" y="148.3" width="19.4" height="1" fill="#000"/>
<rect x="210.48" y="149.3" width="19.4" height="6.1" fill="#ee1111"/>
<rect x="210.48" y="155.4" width="19.4" height="0.6" fill="#333333"/>
<rect x="210.48" y="156" width="19.4" height="2.8" fill="#9c9c9c"/>
<rect x="210.48" y="158.8" width="19.4" height="1.2" fill="#000"/>
<rect x="210.48" y="160" width="19.4" height="2.4" fill="#656565"/>
<rect x="210.48" y="162.4" width="19.4" height="3.8" fill="#333333"/>
<rect x="210.48" y="166.2" width="19.4" height="1.7" fill="#000"/>
<rect x="210.48" y="167.9" width="19.4" height="1.6" fill="#7c7c7c"/>
<rect x="210.48" y="169.5" width="19.4" height="1.5" fill="#000"/>
<rect x="210.48" y="171" width="19.4" height="1.2" fill="#797979"/>
<rect x="210.48" y="172.2" width="19.4" height="0.5" fill="#333333"/>
<rect x="210.48" y="172.7" width="19.4" height="1.1" fill="#797979"/>
<rect x="210.48" y="173.8" width="19.4" height="2" fill="#000"/>
<rect x="210.48" y="175.8" width="19.4" height="1" fill="#646464"/>
<rect x="210.48" y="176.8" width="19.4" height="1.2" fill="#000"/>
<rect x="210.48" y="178" width="19.4" height="4.7" fill="#333333"/>
<rect x="210.48" y="182.7" width="19.4" height="2.3" fill="#848484"/>
<rect x="210.48" y="185" width="19.4" height="1.4" fill="#333333"/>
<rect x="210.48" y="186.4" width="19.4" height="1.4" fill="#5c5c5c"/>
<rect x="210.48" y="187.8" width="19.4" height="1.2" fill="#000"/>
<rect x="210.48" y="189" width="19.4" height="1.2" fill="#333333"/>
<rect x="210.48" y="190.2" width="19.4" height="1.6" fill="#000"/>
<rect x="210.48" y="191.8" width="19.4" height="1.2" fill="#333333"/>
<rect x="210.48" y="193" width="19.4" height="2.5" fill="#000"/>
<rect x="210.48" y="195.5" width="19.4" height="1.7" fill="#858585"/>
<rect x="210.48" y="197.2" width="19.4" height="1.9" fill="#000"/>
<rect x="210.48" y="199.1" width="19.4" height="3.3" fill="#dbdbdb"/>
<rect x="210.48" y="202.4" width="19.4" height="1" fill="#6e6e6e"/>
<rect x="210.48" y="203.4" width="19.4" height="2.8" fill="#b2b2b2"/>
<rect x="210.48" y="206.2" width="19.4" height="1" fill="#333333"/>
<rect x="210.48" y="207.2" width="19.4" height="1.8" fill="#a9a9a9"/>
<rect x="210.48" y="209" width="19.4" height="1.6" fill="#000"/>
<rect x="210.48" y="210.6" width="19.4" height="3.6" fill="#acacac"/>
<rect x="210.48" y="214.2" width="19.4" height="0.9" fill="#6e6e6e"/>
<rect x="210.48" y="215.1" width="19.4" height="2.1" fill="#dedede"/>
<rect x="210.48" y="217.2" width="19.4" height="3.1" fill="#000"/>
<rect x="210.48" y="220.3" width="19.4" height="1.9" fill="#919191"/>
<rect x="210.48" y="222.2" width="19.4" height="3.3" fill="#6d6d6d"/>
<rect x="210.48" y="225.5" width="19.4" height="1.4" fill="#000"/>
<rect x="210.48" y="226.9" width="19.4" height="1.9" fill="#333333"/>
<rect x="210.48" y="228.8" width="19.4" height="1.8" fill="#000"/>
<rect x="210.48" y="230.6" width="19.4" height="1.9" fill="#2d2d2d"/>
<rect x="210.48" y="232.5" width="19.4" height="1.5" fill="#000"/>
<rect x="210.48" y="234" width="19.4" height="1" fill="#000"/>
<rect x="210.48" y="235" width="19.4" height="1.6" fill="#272727"/>
<rect x="210.48" y="236.6" width="19.4" height="7.7" fill="#000"/>
<rect x="210.48" y="244.3" width="19.4" height="1.7" fill="#ee1111"/>
<rect x="210.48" y="246" width="19.4" height="2" fill="#000"/>
<rect x="210.48" y="248" width="19.4" height="1.5" fill="#272727"/>
<rect x="210.48" y="249.5" width="19.4" height="4.2" fill="#000"/>
<rect x="210.48" y="253.7" width="19.4" height="1.7" fill="#333333"/>
<rect x="210.48" y="255.4" width="19.4" height="2.4" fill="#000"/>
<rect x="210.48" y="262.5" width="19.4" height="0.9" fill="#000"/>
<rect x="210.48" y="263.4" width="19.4" height="0.9" fill="#c6c6c6"/>
<rect x="210.48" y="264.3" width="19.4" height="1.4" fill="#333333"/>
<rect x="210.48" y="265.7" width="19.4" height="2.1" fill="#ebebeb"/>
<rect x="210.48" y="267.8" width="19.4" height="0.6" fill="#999999"/>
<rect x="210.48" y="268.4" width="19.4" height="1.1" fill="#c8c8c8"/>
<rect x="210.48" y="269.5" width="19.4" height="2.1" fill="#000"/>
<path d="M210.48 271.1 V11.3 A9.7 10 0 0 1 229.88 11.3 V271.1 A9.7 10 0 0 1 210.48 271.1 Z" fill="none" stroke="#000" stroke-width="1.35"/>
</g>
<g>
<rect x="248.9" y="10.4" width="19.4" height="0.8" fill="#616161"/>
<rect x="248.9" y="11.2" width="19.4" height="1.2" fill="#7c7c7c"/>
<rect x="248.9" y="12.4" width="19.4" height="2.3" fill="#8d8d8d"/>
<rect x="248.9" y="14.7" width="19.4" height="5.2" fill="#000"/>
<rect x="248.9" y="19.9" width="19.4" height="1.4" fill="#5c5c5c"/>
<rect x="248.9" y="21.3" width="19.4" height="1.4" fill="#757575"/>
<rect x="248.9" y="22.7" width="19.4" height="1.3" fill="#000"/>
<rect x="248.9" y="24" width="19.4" height="2.9" fill="#303030"/>
<rect x="248.9" y="26.9" width="19.4" height="1.9" fill="#000"/>
<rect x="248.9" y="28.8" width="19.4" height="2.3" fill="#323232"/>
<rect x="248.9" y="31.1" width="19.4" height="1.4" fill="#000"/>
<rect x="248.9" y="32.5" width="19.4" height="1.2" fill="#585858"/>
<rect x="248.9" y="33.7" width="19.4" height="3.1" fill="#000"/>
<rect x="248.9" y="36.8" width="19.4" height="1.8" fill="#595959"/>
<rect x="248.9" y="38.6" width="19.4" height="1.4" fill="#000"/>
<rect x="248.9" y="40" width="19.4" height="1.5" fill="#767676"/>
<rect x="248.9" y="41.5" width="19.4" height="0.5" fill="#000"/>
<rect x="248.9" y="42" width="19.4" height="1.9" fill="#333333"/>
<rect x="248.9" y="43.9" width="19.4" height="1.7" fill="#000"/>
<rect x="248.9" y="45.6" width="19.4" height="2.2" fill="#ee1111"/>
<rect x="248.9" y="47.8" width="19.4" height="1.5" fill="#000"/>
<rect x="248.9" y="49.3" width="19.4" height="2.6" fill="#959595"/>
<rect x="248.9" y="51.9" width="19.4" height="0.9" fill="#000"/>
<rect x="248.9" y="52.8" width="19.4" height="2.3" fill="#626262"/>
<rect x="248.9" y="55.1" width="19.4" height="2.4" fill="#000"/>
<rect x="248.9" y="57.5" width="19.4" height="1.4" fill="#333333"/>
<rect x="248.9" y="58.9" width="19.4" height="0.9" fill="#000"/>
<rect x="248.9" y="59.8" width="19.4" height="2.4" fill="#8d8d8d"/>
<rect x="248.9" y="62.2" width="19.4" height="1.6" fill="#000"/>
<rect x="248.9" y="63.8" width="19.4" height="3.1" fill="#9a9a9a"/>
<rect x="248.9" y="66.9" width="19.4" height="1.6" fill="#000"/>
<rect x="248.9" y="68.5" width="19.4" height="1.7" fill="#7e7e7e"/>
<rect x="248.9" y="70.2" width="19.4" height="2.3" fill="#000"/>
<rect x="248.9" y="72.5" width="19.4" height="1.9" fill="#333333"/>
<rect x="248.9" y="74.4" width="19.4" height="0.7" fill="#333333"/>
<rect x="248.9" y="75.1" width="19.4" height="2.7" fill="#000"/>
<rect x="248.9" y="77.8" width="19.4" height="2" fill="#cecece"/>
<rect x="248.9" y="79.8" width="19.4" height="1.5" fill="#000"/>
<rect x="248.9" y="81.3" width="19.4" height="1.9" fill="#868686"/>
<rect x="248.9" y="83.2" width="19.4" height="3.5" fill="#000"/>
<rect x="248.9" y="86.7" width="19.4" height="5.1" fill="#333333"/>
<rect x="248.9" y="91.8" width="19.4" height="1.4" fill="#5d5d5d"/>
<rect x="248.9" y="93.2" width="19.4" height="1.5" fill="#000"/>
<rect x="248.9" y="94.7" width="19.4" height="0.9" fill="#333333"/>
<rect x="248.9" y="95.6" width="19.4" height="2.4" fill="#828282"/>
<rect x="248.9" y="98" width="19.4" height="1.8" fill="#595959"/>
<rect x="248.9" y="99.8" width="19.4" height="9" fill="#000"/>
<rect x="248.9" y="108.8" width="19.4" height="2.4" fill="#333333"/>
<rect x="248.9" y="111.2" width="19.4" height="1.8" fill="#7c7c7c"/>
<rect x="248.9" y="113" width="19.4" height="1.5" fill="#000"/>
<rect x="248.9" y="114.5" width="19.4" height="1.4" fill="#6c6c6c"/>
<rect x="248.9" y="115.9" width="19.4" height="1.1" fill="#000"/>
<rect x="248.9" y="117" width="19.4" height="2.6" fill="#dcdcdc"/>
<rect x="248.9" y="119.6" width="19.4" height="1.4" fill="#000"/>
<rect x="248.9" y="121" width="19.4" height="1.4" fill="#878787"/>
<rect x="248.9" y="122.4" width="19.4" height="1.3" fill="#bcbcbc"/>
<rect x="248.9" y="123.7" width="19.4" height="1.3" fill="#000"/>
<rect x="248.9" y="125" width="19.4" height="1.8" fill="#888888"/>
<rect x="248.9" y="126.8" width="19.4" height="2.2" fill="#000"/>
<rect x="248.9" y="129" width="19.4" height="1.4" fill="#333333"/>
<rect x="248.9" y="130.4" width="19.4" height="2.4" fill="#5f5f5f"/>
<rect x="248.9" y="132.8" width="19.4" height="2.8" fill="#000"/>
<rect x="248.9" y="135.6" width="19.4" height="1.9" fill="#323232"/>
<rect x="248.9" y="137.5" width="19.4" height="1.9" fill="#000"/>
<rect x="248.9" y="139.4" width="19.4" height="1.4" fill="#5c5c5c"/>
<rect x="248.9" y="140.8" width="19.4" height="1" fill="#000"/>
<rect x="248.9" y="141.8" width="19.4" height="1.4" fill="#5e5e5e"/>
<rect x="248.9" y="143.2" width="19.4" height="0.9" fill="#333333"/>
<rect x="248.9" y="144.1" width="19.4" height="1.9" fill="#a80000"/>
<rect x="248.9" y="146" width="19.4" height="2.3" fill="#ee1111"/>
<rect x="248.9" y="148.3" width="19.4" height="0.7" fill="#f2b0b0"/>
<rect x="248.9" y="149" width="19.4" height="2.1" fill="#ee1111"/>
<rect x="248.9" y="151.1" width="19.4" height="1.5" fill="#000"/>
<rect x="248.9" y="152.6" width="19.4" height="2.8" fill="#5f5f5f"/>
<rect x="248.9" y="155.4" width="19.4" height="1.4" fill="#333333"/>
<rect x="248.9" y="156.8" width="19.4" height="1.4" fill="#000"/>
<rect x="248.9" y="158.2" width="19.4" height="1.8" fill="#666666"/>
<rect x="248.9" y="160" width="19.4" height="2.6" fill="#000"/>
<rect x="248.9" y="162.6" width="19.4" height="1.7" fill="#656565"/>
<rect x="248.9" y="164.3" width="19.4" height="2.3" fill="#d4d4d4"/>
<rect x="248.9" y="166.6" width="19.4" height="1.9" fill="#666666"/>
<rect x="248.9" y="168.5" width="19.4" height="2.3" fill="#000"/>
<rect x="248.9" y="170.8" width="19.4" height="3" fill="#727272"/>
<rect x="248.9" y="173.8" width="19.4" height="1.8" fill="#000"/>
<rect x="248.9" y="175.6" width="19.4" height="1.7" fill="#5c5c5c"/>
<rect x="248.9" y="177.3" width="19.4" height="1.3" fill="#000"/>
<rect x="248.9" y="178.6" width="19.4" height="1.3" fill="#7c7c7c"/>
<rect x="248.9" y="179.9" width="19.4" height="1.1" fill="#000"/>
<rect x="248.9" y="181" width="19.4" height="2.1" fill="#5e5e5e"/>
<rect x="248.9" y="183.1" width="19.4" height="2.4" fill="#000"/>
<rect x="248.9" y="185.5" width="19.4" height="2.8" fill="#626262"/>
<rect x="248.9" y="188.3" width="19.4" height="1.4" fill="#000"/>
<rect x="248.9" y="189.7" width="19.4" height="2.1" fill="#626262"/>
<rect x="248.9" y="191.8" width="19.4" height="1.7" fill="#ee1111"/>
<rect x="248.9" y="193.5" width="19.4" height="1.1" fill="#000"/>
<rect x="248.9" y="194.6" width="19.4" height="2.2" fill="#8d8d8d"/>
<rect x="248.9" y="196.8" width="19.4" height="1.4" fill="#656565"/>
<rect x="248.9" y="198.2" width="19.4" height="1.4" fill="#000"/>
<rect x="248.9" y="199.6" width="19.4" height="1.9" fill="#646464"/>
<rect x="248.9" y="201.5" width="19.4" height="1.9" fill="#333333"/>
<rect x="248.9" y="203.4" width="19.4" height="2.4" fill="#636363"/>
<rect x="248.9" y="205.8" width="19.4" height="1.4" fill="#000"/>
<rect x="248.9" y="207.2" width="19.4" height="2.1" fill="#ee1111"/>
<rect x="248.9" y="209.3" width="19.4" height="1.6" fill="#5a5a5a"/>
<rect x="248.9" y="210.9" width="19.4" height="1.2" fill="#000"/>
<rect x="248.9" y="212.1" width="19.4" height="1.9" fill="#ee1111"/>
<rect x="248.9" y="214" width="19.4" height="4.4" fill="#000"/>
<rect x="248.9" y="218.4" width="19.4" height="2.2" fill="#ee1111"/>
<rect x="248.9" y="220.6" width="19.4" height="1.6" fill="#575757"/>
<rect x="248.9" y="222.2" width="19.4" height="3.3" fill="#000"/>
<rect x="248.9" y="225.5" width="19.4" height="1.7" fill="#7d7d7d"/>
<rect x="248.9" y="227.2" width="19.4" height="3.4" fill="#000"/>
<rect x="248.9" y="230.6" width="19.4" height="2.4" fill="#d7d7d7"/>
<rect x="248.9" y="233" width="19.4" height="2.4" fill="#000"/>
<rect x="248.9" y="235.4" width="19.4" height="1.9" fill="#333333"/>
<rect x="248.9" y="237.3" width="19.4" height="2.8" fill="#e5e5e5"/>
<rect x="248.9" y="240.1" width="19.4" height="0.9" fill="#000"/>
<rect x="248.9" y="246.2" width="19.4" height="1.8" fill="#333333"/>
<rect x="248.9" y="248" width="19.4" height="2" fill="#ededed"/>
<rect x="248.9" y="250" width="19.4" height="0.6" fill="#999999"/>
<rect x="248.9" y="250.6" width="19.4" height="1.7" fill="#d2d2d2"/>
<rect x="248.9" y="252.3" width="19.4" height="0.9" fill="#6e6e6e"/>
<rect x="248.9" y="253.2" width="19.4" height="1.9" fill="#000"/>
<rect x="248.9" y="263" width="19.4" height="1" fill="#333333"/>
<rect x="248.9" y="264" width="19.4" height="1.4" fill="#6e6e6e"/>
<rect x="248.9" y="265.4" width="19.4" height="0.9" fill="#999999"/>
<rect x="248.9" y="266.3" width="19.4" height="1.4" fill="#6e6e6e"/>
<rect x="248.9" y="267.7" width="19.4" height="1.3" fill="#989898"/>
<rect x="248.9" y="269" width="19.4" height="1.6" fill="#6e6e6e"/>
<rect x="248.9" y="270.6" width="19.4" height="1.2" fill="#8e8e8e"/>
<rect x="248.9" y="271.8" width="19.4" height="1.5" fill="#333333"/>
<path d="M248.9 272.8 V11.3 A9.7 10 0 0 1 268.3 11.3 V272.8 A9.7 10 0 0 1 248.9 272.8 Z" fill="none" stroke="#000" stroke-width="1.35"/>
</g>
<g>
<rect x="287.32" y="10.5" width="19.4" height="1.2" fill="#000"/>
<rect x="287.32" y="11.7" width="19.4" height="2.1" fill="#efefef"/>
<rect x="287.32" y="13.8" width="19.4" height="1.1" fill="#000"/>
<rect x="287.32" y="14.9" width="19.4" height="1.4" fill="#6e6e6e"/>
<rect x="287.32" y="16.3" width="19.4" height="1.2" fill="#999999"/>
<rect x="287.32" y="23.6" width="19.4" height="3.3" fill="#000"/>
<rect x="287.32" y="26.9" width="19.4" height="1.4" fill="#6e6e6e"/>
<rect x="287.32" y="28.3" width="19.4" height="0.9" fill="#929292"/>
<rect x="287.32" y="29.2" width="19.4" height="1" fill="#000"/>
<rect x="287.32" y="30.2" width="19.4" height="0.9" fill="#888888"/>
<rect x="287.32" y="31.1" width="19.4" height="2.4" fill="#d7d7d7"/>
<rect x="287.32" y="33.5" width="19.4" height="1.9" fill="#000"/>
<rect x="287.32" y="35.4" width="19.4" height="1.4" fill="#c1c1c1"/>
<rect x="287.32" y="36.8" width="19.4" height="3.2" fill="#000"/>
<rect x="287.32" y="40" width="19.4" height="1" fill="#333333"/>
<rect x="287.32" y="41" width="19.4" height="1.4" fill="#bababa"/>
<rect x="287.32" y="42.4" width="19.4" height="0.6" fill="#000"/>
<rect x="287.32" y="43" width="19.4" height="1.8" fill="#b8b8b8"/>
<rect x="287.32" y="44.8" width="19.4" height="1.9" fill="#000"/>
<rect x="287.32" y="46.7" width="19.4" height="1.1" fill="#b5b5b5"/>
<rect x="287.32" y="47.8" width="19.4" height="1" fill="#000"/>
<rect x="287.32" y="48.8" width="19.4" height="0.9" fill="#646464"/>
<rect x="287.32" y="49.7" width="19.4" height="2.6" fill="#000"/>
<rect x="287.32" y="52.3" width="19.4" height="1.4" fill="#636363"/>
<rect x="287.32" y="53.7" width="19.4" height="3.8" fill="#000"/>
<rect x="287.32" y="57.5" width="19.4" height="1.9" fill="#d6d6d6"/>
<rect x="287.32" y="59.4" width="19.4" height="2.8" fill="#676767"/>
<rect x="287.32" y="62.2" width="19.4" height="1.9" fill="#8f8f8f"/>
<rect x="287.32" y="64.1" width="19.4" height="3.7" fill="#707070"/>
<rect x="287.32" y="67.8" width="19.4" height="1.9" fill="#000"/>
<rect x="287.32" y="69.7" width="19.4" height="4.2" fill="#333333"/>
<rect x="287.32" y="73.9" width="19.4" height="5.7" fill="#000"/>
<rect x="287.32" y="79.6" width="19.4" height="1.9" fill="#838383"/>
<rect x="287.32" y="81.5" width="19.4" height="1.7" fill="#000"/>
<rect x="287.32" y="83.2" width="19.4" height="0.9" fill="#5e5e5e"/>
<rect x="287.32" y="84.1" width="19.4" height="1.9" fill="#ee1111"/>
<rect x="287.32" y="86" width="19.4" height="1.1" fill="#000"/>
<rect x="287.32" y="87.1" width="19.4" height="1.5" fill="#646464"/>
<rect x="287.32" y="88.6" width="19.4" height="2.1" fill="#898989"/>
<rect x="287.32" y="90.7" width="19.4" height="1.3" fill="#000"/>
<rect x="287.32" y="92" width="19.4" height="1.2" fill="#333333"/>
<rect x="287.32" y="93.2" width="19.4" height="2.2" fill="#5e5e5e"/>
<rect x="287.32" y="95.4" width="19.4" height="1.6" fill="#000"/>
<rect x="287.32" y="97" width="19.4" height="1.4" fill="#333333"/>
<rect x="287.32" y="98.4" width="19.4" height="2.4" fill="#a80000"/>
<rect x="287.32" y="100.8" width="19.4" height="1.8" fill="#000"/>
<rect x="287.32" y="102.6" width="19.4" height="1.3" fill="#333333"/>
<rect x="287.32" y="103.9" width="19.4" height="1.1" fill="#000"/>
<rect x="287.32" y="105" width="19.4" height="1.4" fill="#797979"/>
<rect x="287.32" y="106.4" width="19.4" height="1.3" fill="#000"/>
<rect x="287.32" y="107.7" width="19.4" height="1.6" fill="#5b5b5b"/>
<rect x="287.32" y="109.3" width="19.4" height="1.4" fill="#000"/>
<rect x="287.32" y="110.7" width="19.4" height="2.1" fill="#888888"/>
<rect x="287.32" y="112.8" width="19.4" height="1.7" fill="#000"/>
<rect x="287.32" y="114.5" width="19.4" height="0.9" fill="#333333"/>
<rect x="287.32" y="115.4" width="19.4" height="1.4" fill="#000"/>
<rect x="287.32" y="116.8" width="19.4" height="2.8" fill="#5a5a5a"/>
<rect x="287.32" y="119.6" width="19.4" height="1.4" fill="#ee1111"/>
<rect x="287.32" y="121" width="19.4" height="3.8" fill="#000"/>
<rect x="287.32" y="124.8" width="19.4" height="1.1" fill="#595959"/>
<rect x="287.32" y="125.9" width="19.4" height="1.7" fill="#000"/>
<rect x="287.32" y="127.6" width="19.4" height="6.1" fill="#2f2f2f"/>
<rect x="287.32" y="133.7" width="19.4" height="1.9" fill="#000"/>
<rect x="287.32" y="135.6" width="19.4" height="1.4" fill="#585858"/>
<rect x="287.32" y="137" width="19.4" height="1.4" fill="#000"/>
<rect x="287.32" y="138.4" width="19.4" height="1.6" fill="#585858"/>
<rect x="287.32" y="140" width="19.4" height="2.7" fill="#000"/>
<rect x="287.32" y="142.7" width="19.4" height="2.1" fill="#ee1111"/>
<rect x="287.32" y="144.8" width="19.4" height="1.2" fill="#5f5f5f"/>
<rect x="287.32" y="146" width="19.4" height="1.9" fill="#000"/>
<rect x="287.32" y="147.9" width="19.4" height="1.1" fill="#636363"/>
<rect x="287.32" y="149" width="19.4" height="2" fill="#8b8b8b"/>
<rect x="287.32" y="151" width="19.4" height="1.1" fill="#000"/>
<rect x="287.32" y="152.1" width="19.4" height="1.4" fill="#656565"/>
<rect x="287.32" y="153.5" width="19.4" height="0.9" fill="#333333"/>
<rect x="287.32" y="154.4" width="19.4" height="1.4" fill="#636363"/>
<rect x="287.32" y="155.8" width="19.4" height="1.9" fill="#8e8e8e"/>
<rect x="287.32" y="157.7" width="19.4" height="1.4" fill="#000"/>
<rect x="287.32" y="159.1" width="19.4" height="1.4" fill="#646464"/>
<rect x="287.32" y="160.5" width="19.4" height="1.5" fill="#000"/>
<rect x="287.32" y="162" width="19.4" height="1.8" fill="#333333"/>
<rect x="287.32" y="163.8" width="19.4" height="4.7" fill="#6b6b6b"/>
<rect x="287.32" y="168.5" width="19.4" height="1.5" fill="#333333"/>
<rect x="287.32" y="170" width="19.4" height="1.1" fill="#7a7a7a"/>
<rect x="287.32" y="171.1" width="19.4" height="2.2" fill="#000"/>
<rect x="287.32" y="173.3" width="19.4" height="3.3" fill="#333333"/>
<rect x="287.32" y="176.6" width="19.4" height="1.9" fill="#000"/>
<rect x="287.32" y="178.5" width="19.4" height="2.8" fill="#606060"/>
<rect x="287.32" y="181.3" width="19.4" height="0.9" fill="#333333"/>
<rect x="287.32" y="182.2" width="19.4" height="0.9" fill="#7f7f7f"/>
<rect x="287.32" y="183.1" width="19.4" height="2.1" fill="#000"/>
<rect x="287.32" y="185.2" width="19.4" height="3.1" fill="#9b9b9b"/>
<rect x="287.32" y="188.3" width="19.4" height="1.4" fill="#000"/>
<rect x="287.32" y="189.7" width="19.4" height="1.1" fill="#7d7d7d"/>
<rect x="287.32" y="190.8" width="19.4" height="1.2" fill="#000"/>
<rect x="287.32" y="192" width="19.4" height="2.6" fill="#5f5f5f"/>
<rect x="287.32" y="194.6" width="19.4" height="1.7" fill="#000"/>
<rect x="287.32" y="196.3" width="19.4" height="1.4" fill="#333333"/>
<rect x="287.32" y="197.7" width="19.4" height="1.4" fill="#000"/>
<rect x="287.32" y="199.1" width="19.4" height="1.9" fill="#333333"/>
<rect x="287.32" y="201" width="19.4" height="1" fill="#000"/>
<rect x="287.32" y="202" width="19.4" height="2.8" fill="#949494"/>
<rect x="287.32" y="204.8" width="19.4" height="2.8" fill="#000"/>
<rect x="287.32" y="207.6" width="19.4" height="1.4" fill="#7a7a7a"/>
<rect x="287.32" y="209" width="19.4" height="1.4" fill="#000"/>
<rect x="287.32" y="210.4" width="19.4" height="1.5" fill="#616161"/>
<rect x="287.32" y="211.9" width="19.4" height="4.2" fill="#000"/>
<rect x="287.32" y="216.1" width="19.4" height="2.8" fill="#999999"/>
<rect x="287.32" y="218.9" width="19.4" height="0.9" fill="#000"/>
<rect x="287.32" y="219.8" width="19.4" height="1.4" fill="#ee1111"/>
<rect x="287.32" y="221.2" width="19.4" height="1.6" fill="#7c7c7c"/>
<rect x="287.32" y="222.8" width="19.4" height="1.2" fill="#000"/>
<rect x="287.32" y="224" width="19.4" height="1.5" fill="#606060"/>
<rect x="287.32" y="225.5" width="19.4" height="1.4" fill="#000"/>
<rect x="287.32" y="226.9" width="19.4" height="0.9" fill="#313131"/>
<rect x="287.32" y="227.8" width="19.4" height="1.4" fill="#000"/>
<rect x="287.32" y="229.2" width="19.4" height="1.3" fill="#545454"/>
<rect x="287.32" y="230.5" width="19.4" height="7.8" fill="#000"/>
<rect x="287.32" y="238.3" width="19.4" height="1.7" fill="#ee1111"/>
<rect x="287.32" y="240" width="19.4" height="1" fill="#5e5e5e"/>
<rect x="287.32" y="241" width="19.4" height="2" fill="#d1d1d1"/>
<rect x="287.32" y="243" width="19.4" height="1" fill="#000"/>
<rect x="287.32" y="244" width="19.4" height="1.1" fill="#838383"/>
<rect x="287.32" y="245.1" width="19.4" height="1.7" fill="#000"/>
<path d="M287.32 246.3 V11.3 A9.7 10 0 0 1 306.72 11.3 V246.3 A9.7 10 0 0 1 287.32 246.3 Z" fill="none" stroke="#000" stroke-width="1.35"/>
</g>
<g>
<rect x="325.74" y="10.7" width="19.4" height="0.9" fill="#333333"/>
<rect x="325.74" y="25.8" width="19.4" height="1.1" fill="#000"/>
<rect x="325.74" y="26.9" width="19.4" height="1.1" fill="#c8c8c8"/>
<rect x="325.74" y="28" width="19.4" height="1.2" fill="#000"/>
<rect x="325.74" y="29.2" width="19.4" height="1.1" fill="#6e6e6e"/>
<rect x="325.74" y="30.3" width="19.4" height="0.5" fill="#333333"/>
<rect x="325.74" y="30.8" width="19.4" height="1.7" fill="#6e6e6e"/>
<rect x="325.74" y="32.5" width="19.4" height="2.1" fill="#000"/>
<rect x="325.74" y="34.6" width="19.4" height="1.2" fill="#bababa"/>
<rect x="325.74" y="35.8" width="19.4" height="2.8" fill="#000"/>
<rect x="325.74" y="38.6" width="19.4" height="2.2" fill="#d6d6d6"/>
<rect x="325.74" y="40.8" width="19.4" height="1.2" fill="#000"/>
<rect x="325.74" y="42" width="19.4" height="1" fill="#bababa"/>
<rect x="325.74" y="43" width="19.4" height="4.5" fill="#000"/>
<rect x="325.74" y="47.5" width="19.4" height="2.4" fill="#d1d1d1"/>
<rect x="325.74" y="49.9" width="19.4" height="1.8" fill="#000"/>
<rect x="325.74" y="51.7" width="19.4" height="2.4" fill="#313131"/>
<rect x="325.74" y="54.1" width="19.4" height="5.1" fill="#000"/>
<rect x="325.74" y="59.2" width="19.4" height="1.9" fill="#2b2b2b"/>
<rect x="325.74" y="61.1" width="19.4" height="6.1" fill="#000"/>
<rect x="325.74" y="67.2" width="19.4" height="1.7" fill="#747474"/>
<rect x="325.74" y="68.9" width="19.4" height="3" fill="#000"/>
<rect x="325.74" y="71.9" width="19.4" height="1.2" fill="#b8b8b8"/>
<rect x="325.74" y="73.1" width="19.4" height="2.7" fill="#000"/>
<rect x="325.74" y="75.8" width="19.4" height="1.4" fill="#6b6b6b"/>
<rect x="325.74" y="77.2" width="19.4" height="2.3" fill="#d6d6d6"/>
<rect x="325.74" y="79.5" width="19.4" height="2.4" fill="#909090"/>
<rect x="325.74" y="81.9" width="19.4" height="1.4" fill="#333333"/>
<rect x="325.74" y="83.3" width="19.4" height="1.4" fill="#000"/>
<rect x="325.74" y="84.7" width="19.4" height="1.2" fill="#686868"/>
<rect x="325.74" y="85.9" width="19.4" height="1.6" fill="#000"/>
<rect x="325.74" y="87.5" width="19.4" height="1.4" fill="#333333"/>
<rect x="325.74" y="88.9" width="19.4" height="1.9" fill="#000"/>
<rect x="325.74" y="90.8" width="19.4" height="3.7" fill="#ee1111"/>
<rect x="325.74" y="94.5" width="19.4" height="2.7" fill="#000"/>
<rect x="325.74" y="97.2" width="19.4" height="1.6" fill="#575757"/>
<rect x="325.74" y="98.8" width="19.4" height="4.7" fill="#000"/>
<rect x="325.74" y="103.5" width="19.4" height="1.6" fill="#767676"/>
<rect x="325.74" y="105.1" width="19.4" height="2.9" fill="#000"/>
<rect x="325.74" y="108" width="19.4" height="1.4" fill="#818181"/>
<rect x="325.74" y="109.4" width="19.4" height="1" fill="#333333"/>
<rect x="325.74" y="110.4" width="19.4" height="1.1" fill="#858585"/>
<rect x="325.74" y="111.5" width="19.4" height="2.4" fill="#000"/>
<rect x="325.74" y="113.9" width="19.4" height="2.8" fill="#d9d9d9"/>
<rect x="325.74" y="116.7" width="19.4" height="1.3" fill="#000"/>
<rect x="325.74" y="118" width="19.4" height="1.5" fill="#6a6a6a"/>
<rect x="325.74" y="119.5" width="19.4" height="3.3" fill="#a9a9a9"/>
<rect x="325.74" y="122.8" width="19.4" height="3" fill="#000"/>
<rect x="325.74" y="125.8" width="19.4" height="0.9" fill="#6e6e6e"/>
<rect x="325.74" y="126.7" width="19.4" height="1.3" fill="#000"/>
<rect x="325.74" y="128" width="19.4" height="2.8" fill="#dcdcdc"/>
<rect x="325.74" y="130.8" width="19.4" height="1.2" fill="#000"/>
<rect x="325.74" y="132" width="19.4" height="2" fill="#919191"/>
<rect x="325.74" y="134" width="19.4" height="1.4" fill="#333333"/>
<rect x="325.74" y="135.4" width="19.4" height="1.4" fill="#6d6d6d"/>
<rect x="325.74" y="136.8" width="19.4" height="1.8" fill="#878787"/>
<rect x="325.74" y="138.6" width="19.4" height="3.2" fill="#000"/>
<rect x="325.74" y="141.8" width="19.4" height="1.7" fill="#7c7c7c"/>
<rect x="325.74" y="143.5" width="19.4" height="1.1" fill="#000"/>
<rect x="325.74" y="144.6" width="19.4" height="1.5" fill="#ee1111"/>
<rect x="325.74" y="146.1" width="19.4" height="1" fill="#000"/>
<rect x="325.74" y="147.1" width="19.4" height="1.6" fill="#5a5a5a"/>
<rect x="325.74" y="148.7" width="19.4" height="1.3" fill="#333333"/>
<rect x="325.74" y="150" width="19.4" height="1.5" fill="#000"/>
<rect x="325.74" y="151.5" width="19.4" height="1.2" fill="#313131"/>
<rect x="325.74" y="152.7" width="19.4" height="2.1" fill="#5c5c5c"/>
<rect x="325.74" y="154.8" width="19.4" height="2.3" fill="#000"/>
<rect x="325.74" y="157.1" width="19.4" height="1.9" fill="#333333"/>
<rect x="325.74" y="159" width="19.4" height="1.4" fill="#000"/>
<rect x="325.74" y="160.4" width="19.4" height="1.9" fill="#646464"/>
<rect x="325.74" y="162.3" width="19.4" height="1.4" fill="#828282"/>
<rect x="325.74" y="163.7" width="19.4" height="1" fill="#b7b7b7"/>
<rect x="325.74" y="164.7" width="19.4" height="0.4" fill="#848484"/>
<rect x="325.74" y="165.1" width="19.4" height="0.9" fill="#333333"/>
<rect x="325.74" y="166" width="19.4" height="2.4" fill="#666666"/>
<rect x="325.74" y="168.4" width="19.4" height="1.5" fill="#000"/>
<rect x="325.74" y="169.9" width="19.4" height="2" fill="#8f8f8f"/>
<rect x="325.74" y="171.9" width="19.4" height="1.3" fill="#000"/>
<rect x="325.74" y="173.2" width="19.4" height="1.2" fill="#5d5d5d"/>
<rect x="325.74" y="174.4" width="19.4" height="1.6" fill="#000"/>
<rect x="325.74" y="176" width="19.4" height="1.9" fill="#ee1111"/>
<rect x="325.74" y="177.9" width="19.4" height="1.4" fill="#000"/>
<rect x="325.74" y="179.3" width="19.4" height="1.1" fill="#545454"/>
<rect x="325.74" y="180.4" width="19.4" height="1.6" fill="#000"/>
<rect x="325.74" y="182" width="19.4" height="2" fill="#2b2b2b"/>
<rect x="325.74" y="184" width="19.4" height="5.6" fill="#000"/>
<rect x="325.74" y="189.6" width="19.4" height="1.4" fill="#333333"/>
<rect x="325.74" y="191" width="19.4" height="2.5" fill="#000"/>
<rect x="325.74" y="193.5" width="19.4" height="1.7" fill="#adadad"/>
<rect x="325.74" y="195.2" width="19.4" height="1.4" fill="#000"/>
<rect x="325.74" y="196.6" width="19.4" height="1.6" fill="#7b7b7b"/>
<rect x="325.74" y="198.2" width="19.4" height="2.8" fill="#000"/>
<rect x="325.74" y="201" width="19.4" height="1" fill="#616161"/>
<rect x="325.74" y="202" width="19.4" height="1.6" fill="#000"/>
<rect x="325.74" y="203.6" width="19.4" height="2.2" fill="#595959"/>
<rect x="325.74" y="205.8" width="19.4" height="2.2" fill="#ee1111"/>
<rect x="325.74" y="208" width="19.4" height="2.3" fill="#000"/>
<rect x="325.74" y="210.3" width="19.4" height="1.4" fill="#333333"/>
<rect x="325.74" y="211.7" width="19.4" height="1.9" fill="#000"/>
<rect x="325.74" y="213.6" width="19.4" height="1.4" fill="#5b5b5b"/>
<rect x="325.74" y="215" width="19.4" height="1.7" fill="#000"/>
<rect x="325.74" y="216.7" width="19.4" height="2.1" fill="#595959"/>
<rect x="325.74" y="218.8" width="19.4" height="0.9" fill="#333333"/>
<rect x="325.74" y="219.7" width="19.4" height="1.4" fill="#818181"/>
<rect x="325.74" y="221.1" width="19.4" height="2.4" fill="#000"/>
<rect x="325.74" y="223.5" width="19.4" height="1.4" fill="#333333"/>
<rect x="325.74" y="224.9" width="19.4" height="1.4" fill="#000"/>
<rect x="325.74" y="226.3" width="19.4" height="2.8" fill="#d3d3d3"/>
<rect x="325.74" y="229.1" width="19.4" height="2.9" fill="#000"/>
<rect x="325.74" y="232" width="19.4" height="0.8" fill="#000"/>
<rect x="325.74" y="232.8" width="19.4" height="1.2" fill="#333333"/>
<rect x="325.74" y="234" width="19.4" height="2.5" fill="#666666"/>
<rect x="325.74" y="236.5" width="19.4" height="1.1" fill="#000"/>
<rect x="325.74" y="237.6" width="19.4" height="2.4" fill="#646464"/>
<rect x="325.74" y="240" width="19.4" height="1.2" fill="#000"/>
<rect x="325.74" y="241.2" width="19.4" height="1.1" fill="#6e6e6e"/>
<rect x="325.74" y="242.3" width="19.4" height="1.4" fill="#000"/>
<rect x="325.74" y="243.7" width="19.4" height="1.4" fill="#b8b8b8"/>
<rect x="325.74" y="245.1" width="19.4" height="1.2" fill="#6a6a6a"/>
<rect x="325.74" y="246.3" width="19.4" height="4" fill="#a3a3a3"/>
<rect x="325.74" y="250.3" width="19.4" height="3.1" fill="#000"/>
<rect x="325.74" y="253.4" width="19.4" height="2.3" fill="#8c8c8c"/>
<rect x="325.74" y="255.7" width="19.4" height="0.9" fill="#000"/>
<rect x="325.74" y="256.6" width="19.4" height="2.2" fill="#ee1111"/>
<rect x="325.74" y="258.8" width="19.4" height="1.4" fill="#000"/>
<rect x="325.74" y="260.2" width="19.4" height="1.1" fill="#696969"/>
<rect x="325.74" y="261.3" width="19.4" height="2.3" fill="#000"/>
<rect x="325.74" y="263.6" width="19.4" height="1" fill="#656565"/>
<rect x="325.74" y="264.6" width="19.4" height="2.9" fill="#d4d4d4"/>
<rect x="325.74" y="267.5" width="19.4" height="1" fill="#656565"/>
<rect x="325.74" y="268.5" width="19.4" height="1.8" fill="#000"/>
<rect x="325.74" y="270.3" width="19.4" height="1.7" fill="#ee1111"/>
<rect x="325.74" y="272" width="19.4" height="1.1" fill="#000"/>
<rect x="325.74" y="273.1" width="19.4" height="1.2" fill="#646464"/>
<rect x="325.74" y="274.3" width="19.4" height="1.2" fill="#000"/>
<rect x="325.74" y="275.5" width="19.4" height="0.9" fill="#575757"/>
<rect x="325.74" y="276.4" width="19.4" height="2.2" fill="#000"/>
<path d="M325.74 278.1 V11.3 A9.7 10 0 0 1 345.14 11.3 V278.1 A9.7 10 0 0 1 325.74 278.1 Z" fill="none" stroke="#000" stroke-width="1.35"/>
</g>
<g>
<rect x="364.16" y="10.5" width="19.4" height="2.5" fill="#000"/>
<rect x="364.16" y="13" width="19.4" height="1.7" fill="#c2c2c2"/>
<rect x="364.16" y="14.7" width="19.4" height="0.4" fill="#949494"/>
<rect x="364.16" y="15.1" width="19.4" height="1.9" fill="#e6e6e6"/>
<rect x="364.16" y="17" width="19.4" height="1" fill="#999999"/>
<rect x="364.16" y="18" width="19.4" height="1" fill="#6e6e6e"/>
<rect x="364.16" y="19" width="19.4" height="0.9" fill="#333333"/>
<rect x="364.16" y="19.9" width="19.4" height="0.9" fill="#999999"/>
<rect x="364.16" y="20.8" width="19.4" height="1.6" fill="#000"/>
<rect x="364.16" y="32.1" width="19.4" height="1.4" fill="#000"/>
<rect x="364.16" y="33.5" width="19.4" height="1.1" fill="#333333"/>
<rect x="364.16" y="34.6" width="19.4" height="2.6" fill="#000"/>
<rect x="364.16" y="37.2" width="19.4" height="1" fill="#6e6e6e"/>
<rect x="364.16" y="38.2" width="19.4" height="1.8" fill="#949494"/>
<rect x="364.16" y="40" width="19.4" height="1.1" fill="#6e6e6e"/>
<rect x="364.16" y="41.1" width="19.4" height="1.2" fill="#000"/>
<rect x="364.16" y="46.8" width="19.4" height="0.7" fill="#989898"/>
<rect x="364.16" y="47.5" width="19.4" height="1.7" fill="#c4c4c4"/>
<rect x="364.16" y="49.2" width="19.4" height="1.6" fill="#ee1111"/>
<rect x="364.16" y="50.8" width="19.4" height="1.4" fill="#959595"/>
<rect x="364.16" y="52.2" width="19.4" height="0.9" fill="#000"/>
<rect x="364.16" y="53.1" width="19.4" height="2.9" fill="#333333"/>
<rect x="364.16" y="56" width="19.4" height="0.9" fill="#000"/>
<rect x="364.16" y="56.9" width="19.4" height="3.3" fill="#6d6d6d"/>
<rect x="364.16" y="60.2" width="19.4" height="1.2" fill="#333333"/>
<rect x="364.16" y="61.4" width="19.4" height="1.6" fill="#ee1111"/>
<rect x="364.16" y="63" width="19.4" height="1.2" fill="#000"/>
<rect x="364.16" y="64.2" width="19.4" height="1.6" fill="#838383"/>
<rect x="364.16" y="65.8" width="19.4" height="1.4" fill="#000"/>
<rect x="364.16" y="67.2" width="19.4" height="4.3" fill="#6e6e6e"/>
<rect x="364.16" y="71.5" width="19.4" height="0.7" fill="#000"/>
<rect x="364.16" y="72.2" width="19.4" height="2.1" fill="#929292"/>
<rect x="364.16" y="74.3" width="19.4" height="1.9" fill="#000"/>
<rect x="364.16" y="76.2" width="19.4" height="2.8" fill="#333333"/>
<rect x="364.16" y="79" width="19.4" height="3.3" fill="#a3a3a3"/>
<rect x="364.16" y="82.3" width="19.4" height="1" fill="#333333"/>
<rect x="364.16" y="83.3" width="19.4" height="1.8" fill="#b9b9b9"/>
<rect x="364.16" y="85.1" width="19.4" height="1" fill="#333333"/>
<rect x="364.16" y="86.1" width="19.4" height="1.7" fill="#888888"/>
<rect x="364.16" y="87.8" width="19.4" height="3" fill="#000"/>
<rect x="364.16" y="90.8" width="19.4" height="1.4" fill="#333333"/>
<rect x="364.16" y="92.2" width="19.4" height="2.8" fill="#626262"/>
<rect x="364.16" y="95" width="19.4" height="3.1" fill="#000"/>
<rect x="364.16" y="98.1" width="19.4" height="2.1" fill="#868686"/>
<rect x="364.16" y="100.2" width="19.4" height="1.7" fill="#000"/>
<rect x="364.16" y="101.9" width="19.4" height="2" fill="#5e5e5e"/>
<rect x="364.16" y="103.9" width="19.4" height="2" fill="#000"/>
<rect x="364.16" y="105.9" width="19.4" height="3.7" fill="#737373"/>
<rect x="364.16" y="109.6" width="19.4" height="1.2" fill="#000"/>
<rect x="364.16" y="110.8" width="19.4" height="2.1" fill="#333333"/>
<rect x="364.16" y="112.9" width="19.4" height="1" fill="#6e6e6e"/>
<rect x="364.16" y="113.9" width="19.4" height="2.8" fill="#dedede"/>
<rect x="364.16" y="116.7" width="19.4" height="1.3" fill="#000"/>
<rect x="364.16" y="118" width="19.4" height="2.4" fill="#6e6e6e"/>
<rect x="364.16" y="120.4" width="19.4" height="2.8" fill="#dedede"/>
<rect x="364.16" y="123.2" width="19.4" height="1.9" fill="#000"/>
<rect x="364.16" y="125.1" width="19.4" height="1.9" fill="#6a6a6a"/>
<rect x="364.16" y="127" width="19.4" height="1.4" fill="#000"/>
<rect x="364.16" y="128.4" width="19.4" height="1.9" fill="#6c6c6c"/>
<rect x="364.16" y="130.3" width="19.4" height="1.9" fill="#333333"/>
<rect x="364.16" y="132.2" width="19.4" height="1.8" fill="#666666"/>
<rect x="364.16" y="134" width="19.4" height="2.5" fill="#646464"/>
<rect x="364.16" y="136.5" width="19.4" height="1.8" fill="#ee1111"/>
<rect x="364.16" y="138.3" width="19.4" height="1.9" fill="#909090"/>
<rect x="364.16" y="140.2" width="19.4" height="2.8" fill="#333333"/>
<rect x="364.16" y="143" width="19.4" height="1.5" fill="#000"/>
<rect x="364.16" y="144.5" width="19.4" height="1.5" fill="#7f7f7f"/>
<rect x="364.16" y="146" width="19.4" height="3.1" fill="#6e6e6e"/>
<rect x="364.16" y="149.1" width="19.4" height="1.5" fill="#000"/>
<rect x="364.16" y="150.6" width="19.4" height="4.2" fill="#333333"/>
<rect x="364.16" y="154.8" width="19.4" height="0.9" fill="#000"/>
<rect x="364.16" y="155.7" width="19.4" height="1.4" fill="#7c7c7c"/>
<rect x="364.16" y="157.1" width="19.4" height="1" fill="#333333"/>
<rect x="364.16" y="158.1" width="19.4" height="2.5" fill="#ee1111"/>
<rect x="364.16" y="160.6" width="19.4" height="0.9" fill="#000"/>
<rect x="364.16" y="161.5" width="19.4" height="1.7" fill="#7b7b7b"/>
<rect x="364.16" y="163.2" width="19.4" height="1.4" fill="#000"/>
<rect x="364.16" y="164.6" width="19.4" height="1.3" fill="#636363"/>
<rect x="364.16" y="165.9" width="19.4" height="1.6" fill="#000"/>
<rect x="364.16" y="167.5" width="19.4" height="1.8" fill="#626262"/>
<rect x="364.16" y="169.3" width="19.4" height="2" fill="#000"/>
<rect x="364.16" y="171.3" width="19.4" height="1.9" fill="#898989"/>
<rect x="364.16" y="173.2" width="19.4" height="3.3" fill="#333333"/>
<rect x="364.16" y="176.5" width="19.4" height="1.4" fill="#838383"/>
<rect x="364.16" y="177.9" width="19.4" height="1.4" fill="#333333"/>
<rect x="364.16" y="179.3" width="19.4" height="3.7" fill="#727272"/>
<rect x="364.16" y="183" width="19.4" height="1.9" fill="#333333"/>
<rect x="364.16" y="184.9" width="19.4" height="1.9" fill="#8a8a8a"/>
<rect x="364.16" y="186.8" width="19.4" height="6.1" fill="#333333"/>
<rect x="364.16" y="192.9" width="19.4" height="1.9" fill="#000"/>
<rect x="364.16" y="194.8" width="19.4" height="1.8" fill="#787878"/>
<rect x="364.16" y="196.6" width="19.4" height="1.3" fill="#000"/>
<rect x="364.16" y="197.9" width="19.4" height="1.8" fill="#5e5e5e"/>
<rect x="364.16" y="199.7" width="19.4" height="1.3" fill="#000"/>
<rect x="364.16" y="201" width="19.4" height="1.3" fill="#5f5f5f"/>
<rect x="364.16" y="202.3" width="19.4" height="1.5" fill="#000"/>
<rect x="364.16" y="203.8" width="19.4" height="1.1" fill="#656565"/>
<rect x="364.16" y="204.9" width="19.4" height="1.5" fill="#000"/>
<rect x="364.16" y="206.4" width="19.4" height="2.5" fill="#8c8c8c"/>
<rect x="364.16" y="208.9" width="19.4" height="2.4" fill="#000"/>
<rect x="364.16" y="211.3" width="19.4" height="2.8" fill="#dbdbdb"/>
<rect x="364.16" y="214.1" width="19.4" height="4.7" fill="#000"/>
<rect x="364.16" y="218.8" width="19.4" height="3.3" fill="#d9d9d9"/>
<rect x="364.16" y="222.1" width="19.4" height="4.7" fill="#333333"/>
<rect x="364.16" y="226.8" width="19.4" height="1.8" fill="#000"/>
<rect x="364.16" y="228.6" width="19.4" height="3.3" fill="#747474"/>
<rect x="364.16" y="231.9" width="19.4" height="1.7" fill="#000"/>
<rect x="364.16" y="233.6" width="19.4" height="2" fill="#8e8e8e"/>
<rect x="364.16" y="235.6" width="19.4" height="1" fill="#000"/>
<rect x="364.16" y="236.6" width="19.4" height="1.4" fill="#bbbbbb"/>
<rect x="364.16" y="238" width="19.4" height="2.8" fill="#6e6e6e"/>
<rect x="364.16" y="240.8" width="19.4" height="1.2" fill="#000"/>
<rect x="364.16" y="242" width="19.4" height="1.6" fill="#6e6e6e"/>
<rect x="364.16" y="243.6" width="19.4" height="1.2" fill="#000"/>
<rect x="364.16" y="251.1" width="19.4" height="1.4" fill="#333333"/>
<rect x="364.16" y="257.2" width="19.4" height="2.1" fill="#000"/>
<path d="M364.16 258.8 V11.3 A9.7 10 0 0 1 383.56 11.3 V258.8 A9.7 10 0 0 1 364.16 258.8 Z" fill="none" stroke="#000" stroke-width="1.35"/>
</g>
<g stroke="#333" stroke-width="1.1" fill="none">
<path d="M41.9 10.8 V300.3" stroke="#777" stroke-width="1.7"/>
<path d="M36.4 11.3 H42.5"/>
<path d="M36.4 69 H42.5"/>
<path d="M36.4 126.7 H42.5"/>
<path d="M36.4 184.4 H42.5"/>
<path d="M36.4 242.1 H42.5"/>
<path d="M36.4 299.8 H42.5"/>
<path d="M66.5 318.7 H373.86"/>
<path d="M66.5 318.7 V324.6"/>
<path d="M104.92 318.7 V324.6"/>
<path d="M143.34 318.7 V324.6"/>
<path d="M181.76 318.7 V324.6"/>
<path d="M220.18 318.7 V324.6"/>
<path d="M258.6 318.7 V324.6"/>
<path d="M297.02 318.7 V324.6"/>
<path d="M335.44 318.7 V324.6"/>
<path d="M373.86 318.7 V324.6"/>
</g>
<g font-family="'Liberation Sans', Arial, sans-serif" font-size="10.5" fill="#000" stroke="#000" stroke-width="0.45" text-anchor="middle">
<text transform="translate(29.4 11.3) rotate(-90)">0</text>
<text transform="translate(29.4 69) rotate(-90)">20</text>
<text transform="translate(29.4 126.7) rotate(-90)">40</text>
<text transform="translate(29.4 184.4) rotate(-90)">60</text>
<text transform="translate(29.4 242.1) rotate(-90)">80</text>
<text transform="translate(29.4 299.8) rotate(-90)">100</text>
<text x="66.5" y="338.4">CLG1</text>
<text x="104.92" y="338.4">CLG2</text>
<text x="143.34" y="338.4">CLG3</text>
<text x="181.76" y="338.4">CLG4</text>
<text x="220.18" y="338.4">CLG5</text>
<text x="258.6" y="338.4">CLG6</text>
<text x="297.02" y="338.4">CLG7</text>
<text x="335.44" y="338.4">CLG8</text>
<text x="373.86" y="338.4">CLG9</text>
<text x="219.6" y="359.1">Chromosomal linkage group</text>
<text transform="translate(7.2 152) rotate(-90)">position (cM)</text>
</g>
</svg>
</body></html>
